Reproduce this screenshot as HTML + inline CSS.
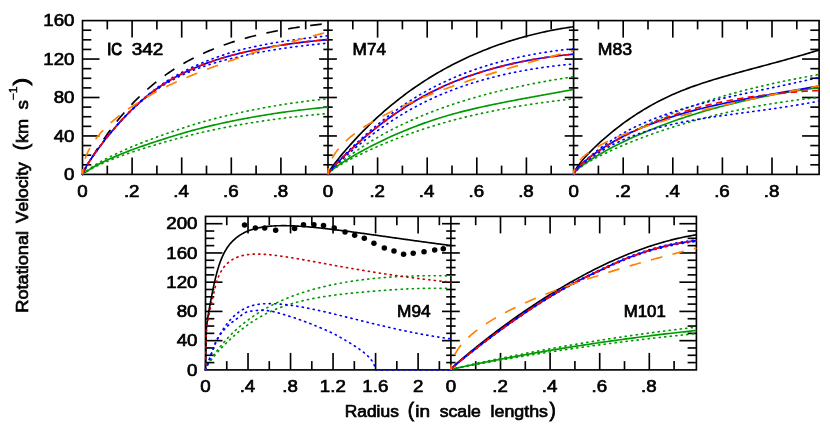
<!DOCTYPE html>
<html><head><meta charset="utf-8"><title>Rotation curves</title>
<style>html,body{margin:0;padding:0;background:#fff;}svg{display:block;will-change:transform;}</style>
</head><body>
<svg width="830" height="426" viewBox="0 0 830 426">
<rect width="830" height="426" fill="#fff"/>
<g stroke="#000" stroke-width="1.65" fill="none" stroke-linecap="butt">
<rect x="82.5" y="20.6" width="736.6" height="153.8"/>
<line x1="107.3" y1="174.4" x2="107.3" y2="165.6"/>
<line x1="107.3" y1="20.6" x2="107.3" y2="29.4"/>
<line x1="132.1" y1="174.4" x2="132.1" y2="157.4"/>
<line x1="132.1" y1="20.6" x2="132.1" y2="37.6"/>
<line x1="156.9" y1="174.4" x2="156.9" y2="165.6"/>
<line x1="156.9" y1="20.6" x2="156.9" y2="29.4"/>
<line x1="181.7" y1="174.4" x2="181.7" y2="157.4"/>
<line x1="181.7" y1="20.6" x2="181.7" y2="37.6"/>
<line x1="206.5" y1="174.4" x2="206.5" y2="165.6"/>
<line x1="206.5" y1="20.6" x2="206.5" y2="29.4"/>
<line x1="231.3" y1="174.4" x2="231.3" y2="157.4"/>
<line x1="231.3" y1="20.6" x2="231.3" y2="37.6"/>
<line x1="256.1" y1="174.4" x2="256.1" y2="165.6"/>
<line x1="256.1" y1="20.6" x2="256.1" y2="29.4"/>
<line x1="280.9" y1="174.4" x2="280.9" y2="157.4"/>
<line x1="280.9" y1="20.6" x2="280.9" y2="37.6"/>
<line x1="305.7" y1="174.4" x2="305.7" y2="165.6"/>
<line x1="305.7" y1="20.6" x2="305.7" y2="29.4"/>
<line x1="328" y1="20.6" x2="328" y2="174.4"/>
<line x1="352.8" y1="174.4" x2="352.8" y2="165.6"/>
<line x1="352.8" y1="20.6" x2="352.8" y2="29.4"/>
<line x1="377.6" y1="174.4" x2="377.6" y2="157.4"/>
<line x1="377.6" y1="20.6" x2="377.6" y2="37.6"/>
<line x1="402.4" y1="174.4" x2="402.4" y2="165.6"/>
<line x1="402.4" y1="20.6" x2="402.4" y2="29.4"/>
<line x1="427.2" y1="174.4" x2="427.2" y2="157.4"/>
<line x1="427.2" y1="20.6" x2="427.2" y2="37.6"/>
<line x1="452" y1="174.4" x2="452" y2="165.6"/>
<line x1="452" y1="20.6" x2="452" y2="29.4"/>
<line x1="476.8" y1="174.4" x2="476.8" y2="157.4"/>
<line x1="476.8" y1="20.6" x2="476.8" y2="37.6"/>
<line x1="501.6" y1="174.4" x2="501.6" y2="165.6"/>
<line x1="501.6" y1="20.6" x2="501.6" y2="29.4"/>
<line x1="526.4" y1="174.4" x2="526.4" y2="157.4"/>
<line x1="526.4" y1="20.6" x2="526.4" y2="37.6"/>
<line x1="551.2" y1="174.4" x2="551.2" y2="165.6"/>
<line x1="551.2" y1="20.6" x2="551.2" y2="29.4"/>
<line x1="573.6" y1="20.6" x2="573.6" y2="174.4"/>
<line x1="598.4" y1="174.4" x2="598.4" y2="165.6"/>
<line x1="598.4" y1="20.6" x2="598.4" y2="29.4"/>
<line x1="623.2" y1="174.4" x2="623.2" y2="157.4"/>
<line x1="623.2" y1="20.6" x2="623.2" y2="37.6"/>
<line x1="648" y1="174.4" x2="648" y2="165.6"/>
<line x1="648" y1="20.6" x2="648" y2="29.4"/>
<line x1="672.8" y1="174.4" x2="672.8" y2="157.4"/>
<line x1="672.8" y1="20.6" x2="672.8" y2="37.6"/>
<line x1="697.6" y1="174.4" x2="697.6" y2="165.6"/>
<line x1="697.6" y1="20.6" x2="697.6" y2="29.4"/>
<line x1="722.4" y1="174.4" x2="722.4" y2="157.4"/>
<line x1="722.4" y1="20.6" x2="722.4" y2="37.6"/>
<line x1="747.2" y1="174.4" x2="747.2" y2="165.6"/>
<line x1="747.2" y1="20.6" x2="747.2" y2="29.4"/>
<line x1="772" y1="174.4" x2="772" y2="157.4"/>
<line x1="772" y1="20.6" x2="772" y2="37.6"/>
<line x1="796.8" y1="174.4" x2="796.8" y2="165.6"/>
<line x1="796.8" y1="20.6" x2="796.8" y2="29.4"/>
<line x1="82.5" y1="164.79" x2="91.3" y2="164.79"/>
<line x1="819.1" y1="164.79" x2="810.3" y2="164.79"/>
<line x1="323.3" y1="164.79" x2="332.7" y2="164.79"/>
<line x1="568.9" y1="164.79" x2="578.3" y2="164.79"/>
<line x1="82.5" y1="155.18" x2="91.3" y2="155.18"/>
<line x1="819.1" y1="155.18" x2="810.3" y2="155.18"/>
<line x1="323.3" y1="155.18" x2="332.7" y2="155.18"/>
<line x1="568.9" y1="155.18" x2="578.3" y2="155.18"/>
<line x1="82.5" y1="145.56" x2="91.3" y2="145.56"/>
<line x1="819.1" y1="145.56" x2="810.3" y2="145.56"/>
<line x1="323.3" y1="145.56" x2="332.7" y2="145.56"/>
<line x1="568.9" y1="145.56" x2="578.3" y2="145.56"/>
<line x1="82.5" y1="135.95" x2="99.5" y2="135.95"/>
<line x1="819.1" y1="135.95" x2="802.1" y2="135.95"/>
<line x1="319.1" y1="135.95" x2="336.9" y2="135.95"/>
<line x1="564.7" y1="135.95" x2="582.5" y2="135.95"/>
<line x1="82.5" y1="126.34" x2="91.3" y2="126.34"/>
<line x1="819.1" y1="126.34" x2="810.3" y2="126.34"/>
<line x1="323.3" y1="126.34" x2="332.7" y2="126.34"/>
<line x1="568.9" y1="126.34" x2="578.3" y2="126.34"/>
<line x1="82.5" y1="116.72" x2="91.3" y2="116.72"/>
<line x1="819.1" y1="116.72" x2="810.3" y2="116.72"/>
<line x1="323.3" y1="116.72" x2="332.7" y2="116.72"/>
<line x1="568.9" y1="116.72" x2="578.3" y2="116.72"/>
<line x1="82.5" y1="107.11" x2="91.3" y2="107.11"/>
<line x1="819.1" y1="107.11" x2="810.3" y2="107.11"/>
<line x1="323.3" y1="107.11" x2="332.7" y2="107.11"/>
<line x1="568.9" y1="107.11" x2="578.3" y2="107.11"/>
<line x1="82.5" y1="97.5" x2="99.5" y2="97.5"/>
<line x1="819.1" y1="97.5" x2="802.1" y2="97.5"/>
<line x1="319.1" y1="97.5" x2="336.9" y2="97.5"/>
<line x1="564.7" y1="97.5" x2="582.5" y2="97.5"/>
<line x1="82.5" y1="87.89" x2="91.3" y2="87.89"/>
<line x1="819.1" y1="87.89" x2="810.3" y2="87.89"/>
<line x1="323.3" y1="87.89" x2="332.7" y2="87.89"/>
<line x1="568.9" y1="87.89" x2="578.3" y2="87.89"/>
<line x1="82.5" y1="78.28" x2="91.3" y2="78.28"/>
<line x1="819.1" y1="78.28" x2="810.3" y2="78.28"/>
<line x1="323.3" y1="78.28" x2="332.7" y2="78.28"/>
<line x1="568.9" y1="78.28" x2="578.3" y2="78.28"/>
<line x1="82.5" y1="68.66" x2="91.3" y2="68.66"/>
<line x1="819.1" y1="68.66" x2="810.3" y2="68.66"/>
<line x1="323.3" y1="68.66" x2="332.7" y2="68.66"/>
<line x1="568.9" y1="68.66" x2="578.3" y2="68.66"/>
<line x1="82.5" y1="59.05" x2="99.5" y2="59.05"/>
<line x1="819.1" y1="59.05" x2="802.1" y2="59.05"/>
<line x1="319.1" y1="59.05" x2="336.9" y2="59.05"/>
<line x1="564.7" y1="59.05" x2="582.5" y2="59.05"/>
<line x1="82.5" y1="49.44" x2="91.3" y2="49.44"/>
<line x1="819.1" y1="49.44" x2="810.3" y2="49.44"/>
<line x1="323.3" y1="49.44" x2="332.7" y2="49.44"/>
<line x1="568.9" y1="49.44" x2="578.3" y2="49.44"/>
<line x1="82.5" y1="39.82" x2="91.3" y2="39.82"/>
<line x1="819.1" y1="39.82" x2="810.3" y2="39.82"/>
<line x1="323.3" y1="39.82" x2="332.7" y2="39.82"/>
<line x1="568.9" y1="39.82" x2="578.3" y2="39.82"/>
<line x1="82.5" y1="30.21" x2="91.3" y2="30.21"/>
<line x1="819.1" y1="30.21" x2="810.3" y2="30.21"/>
<line x1="323.3" y1="30.21" x2="332.7" y2="30.21"/>
<line x1="568.9" y1="30.21" x2="578.3" y2="30.21"/>
</g>
<g stroke="#000" stroke-width="1.65" fill="none" stroke-linecap="butt">
<rect x="205.5" y="216.4" width="490.9" height="153.5"/>
<line x1="226.76" y1="369.9" x2="226.76" y2="361.1"/>
<line x1="226.76" y1="216.4" x2="226.76" y2="225.2"/>
<line x1="248.02" y1="369.9" x2="248.02" y2="352.9"/>
<line x1="248.02" y1="216.4" x2="248.02" y2="233.4"/>
<line x1="269.28" y1="369.9" x2="269.28" y2="361.1"/>
<line x1="269.28" y1="216.4" x2="269.28" y2="225.2"/>
<line x1="290.54" y1="369.9" x2="290.54" y2="352.9"/>
<line x1="290.54" y1="216.4" x2="290.54" y2="233.4"/>
<line x1="311.8" y1="369.9" x2="311.8" y2="361.1"/>
<line x1="311.8" y1="216.4" x2="311.8" y2="225.2"/>
<line x1="333.06" y1="369.9" x2="333.06" y2="352.9"/>
<line x1="333.06" y1="216.4" x2="333.06" y2="233.4"/>
<line x1="354.32" y1="369.9" x2="354.32" y2="361.1"/>
<line x1="354.32" y1="216.4" x2="354.32" y2="225.2"/>
<line x1="375.58" y1="369.9" x2="375.58" y2="352.9"/>
<line x1="375.58" y1="216.4" x2="375.58" y2="233.4"/>
<line x1="396.84" y1="369.9" x2="396.84" y2="361.1"/>
<line x1="396.84" y1="216.4" x2="396.84" y2="225.2"/>
<line x1="418.1" y1="369.9" x2="418.1" y2="352.9"/>
<line x1="418.1" y1="216.4" x2="418.1" y2="233.4"/>
<line x1="439.36" y1="369.9" x2="439.36" y2="361.1"/>
<line x1="439.36" y1="216.4" x2="439.36" y2="225.2"/>
<line x1="450.9" y1="216.4" x2="450.9" y2="369.9"/>
<line x1="475.7" y1="369.9" x2="475.7" y2="361.1"/>
<line x1="475.7" y1="216.4" x2="475.7" y2="225.2"/>
<line x1="500.5" y1="369.9" x2="500.5" y2="352.9"/>
<line x1="500.5" y1="216.4" x2="500.5" y2="233.4"/>
<line x1="525.3" y1="369.9" x2="525.3" y2="361.1"/>
<line x1="525.3" y1="216.4" x2="525.3" y2="225.2"/>
<line x1="550.1" y1="369.9" x2="550.1" y2="352.9"/>
<line x1="550.1" y1="216.4" x2="550.1" y2="233.4"/>
<line x1="574.9" y1="369.9" x2="574.9" y2="361.1"/>
<line x1="574.9" y1="216.4" x2="574.9" y2="225.2"/>
<line x1="599.7" y1="369.9" x2="599.7" y2="352.9"/>
<line x1="599.7" y1="216.4" x2="599.7" y2="233.4"/>
<line x1="624.5" y1="369.9" x2="624.5" y2="361.1"/>
<line x1="624.5" y1="216.4" x2="624.5" y2="225.2"/>
<line x1="649.3" y1="369.9" x2="649.3" y2="352.9"/>
<line x1="649.3" y1="216.4" x2="649.3" y2="233.4"/>
<line x1="674.1" y1="369.9" x2="674.1" y2="361.1"/>
<line x1="674.1" y1="216.4" x2="674.1" y2="225.2"/>
<line x1="205.5" y1="362.59" x2="214.3" y2="362.59"/>
<line x1="696.4" y1="362.59" x2="687.6" y2="362.59"/>
<line x1="446.2" y1="362.59" x2="455.6" y2="362.59"/>
<line x1="205.5" y1="355.28" x2="214.3" y2="355.28"/>
<line x1="696.4" y1="355.28" x2="687.6" y2="355.28"/>
<line x1="446.2" y1="355.28" x2="455.6" y2="355.28"/>
<line x1="205.5" y1="347.97" x2="214.3" y2="347.97"/>
<line x1="696.4" y1="347.97" x2="687.6" y2="347.97"/>
<line x1="446.2" y1="347.97" x2="455.6" y2="347.97"/>
<line x1="205.5" y1="340.66" x2="222.5" y2="340.66"/>
<line x1="696.4" y1="340.66" x2="679.4" y2="340.66"/>
<line x1="442" y1="340.66" x2="459.8" y2="340.66"/>
<line x1="205.5" y1="333.35" x2="214.3" y2="333.35"/>
<line x1="696.4" y1="333.35" x2="687.6" y2="333.35"/>
<line x1="446.2" y1="333.35" x2="455.6" y2="333.35"/>
<line x1="205.5" y1="326.04" x2="214.3" y2="326.04"/>
<line x1="696.4" y1="326.04" x2="687.6" y2="326.04"/>
<line x1="446.2" y1="326.04" x2="455.6" y2="326.04"/>
<line x1="205.5" y1="318.73" x2="214.3" y2="318.73"/>
<line x1="696.4" y1="318.73" x2="687.6" y2="318.73"/>
<line x1="446.2" y1="318.73" x2="455.6" y2="318.73"/>
<line x1="205.5" y1="311.42" x2="222.5" y2="311.42"/>
<line x1="696.4" y1="311.42" x2="679.4" y2="311.42"/>
<line x1="442" y1="311.42" x2="459.8" y2="311.42"/>
<line x1="205.5" y1="304.11" x2="214.3" y2="304.11"/>
<line x1="696.4" y1="304.11" x2="687.6" y2="304.11"/>
<line x1="446.2" y1="304.11" x2="455.6" y2="304.11"/>
<line x1="205.5" y1="296.8" x2="214.3" y2="296.8"/>
<line x1="696.4" y1="296.8" x2="687.6" y2="296.8"/>
<line x1="446.2" y1="296.8" x2="455.6" y2="296.8"/>
<line x1="205.5" y1="289.5" x2="214.3" y2="289.5"/>
<line x1="696.4" y1="289.5" x2="687.6" y2="289.5"/>
<line x1="446.2" y1="289.5" x2="455.6" y2="289.5"/>
<line x1="205.5" y1="282.19" x2="222.5" y2="282.19"/>
<line x1="696.4" y1="282.19" x2="679.4" y2="282.19"/>
<line x1="442" y1="282.19" x2="459.8" y2="282.19"/>
<line x1="205.5" y1="274.88" x2="214.3" y2="274.88"/>
<line x1="696.4" y1="274.88" x2="687.6" y2="274.88"/>
<line x1="446.2" y1="274.88" x2="455.6" y2="274.88"/>
<line x1="205.5" y1="267.57" x2="214.3" y2="267.57"/>
<line x1="696.4" y1="267.57" x2="687.6" y2="267.57"/>
<line x1="446.2" y1="267.57" x2="455.6" y2="267.57"/>
<line x1="205.5" y1="260.26" x2="214.3" y2="260.26"/>
<line x1="696.4" y1="260.26" x2="687.6" y2="260.26"/>
<line x1="446.2" y1="260.26" x2="455.6" y2="260.26"/>
<line x1="205.5" y1="252.95" x2="222.5" y2="252.95"/>
<line x1="696.4" y1="252.95" x2="679.4" y2="252.95"/>
<line x1="442" y1="252.95" x2="459.8" y2="252.95"/>
<line x1="205.5" y1="245.64" x2="214.3" y2="245.64"/>
<line x1="696.4" y1="245.64" x2="687.6" y2="245.64"/>
<line x1="446.2" y1="245.64" x2="455.6" y2="245.64"/>
<line x1="205.5" y1="238.33" x2="214.3" y2="238.33"/>
<line x1="696.4" y1="238.33" x2="687.6" y2="238.33"/>
<line x1="446.2" y1="238.33" x2="455.6" y2="238.33"/>
<line x1="205.5" y1="231.02" x2="214.3" y2="231.02"/>
<line x1="696.4" y1="231.02" x2="687.6" y2="231.02"/>
<line x1="446.2" y1="231.02" x2="455.6" y2="231.02"/>
<line x1="205.5" y1="223.71" x2="222.5" y2="223.71"/>
<line x1="696.4" y1="223.71" x2="679.4" y2="223.71"/>
<line x1="442" y1="223.71" x2="459.8" y2="223.71"/>
</g>
<g stroke-linejoin="round">
<path d="M82.5,174.4L84.56,170.59L86.63,166.86L88.69,163.23L90.75,159.68L92.82,156.22L94.88,152.84L96.94,149.54L99,146.32L101.07,143.18L103.13,140.11L105.19,137.11L107.26,134.19L109.32,131.33L111.38,128.55L113.45,125.83L115.51,123.17L117.57,120.58L119.63,118.05L121.7,115.58L123.76,113.17L125.82,110.81L127.89,108.51L129.95,106.27L132.01,104.08L134.08,101.94L136.14,99.86L138.2,97.82L140.26,95.83L142.33,93.89L144.39,91.99L146.45,90.14L148.52,88.34L150.58,86.58L152.64,84.86L154.71,83.18L156.77,81.54L158.83,79.94L160.89,78.37L162.96,76.85L165.02,75.36L167.08,73.91L169.15,72.49L171.21,71.1L173.27,69.75L175.34,68.43L177.4,67.14L179.46,65.88L181.53,64.66L183.59,63.46L185.65,62.29L187.71,61.15L189.78,60.03L191.84,58.94L193.9,57.88L195.97,56.84L198.03,55.83L200.09,54.84L202.16,53.88L204.22,52.94L206.28,52.02L208.34,51.12L210.41,50.24L212.47,49.39L214.53,48.55L216.6,47.74L218.66,46.94L220.72,46.17L222.79,45.41L224.85,44.67L226.91,43.95L228.97,43.24L231.04,42.55L233.1,41.88L235.16,41.23L237.23,40.59L239.29,39.96L241.35,39.35L243.42,38.76L245.48,38.17L247.54,37.61L249.61,37.05L251.67,36.51L253.73,35.98L255.79,35.47L257.86,34.97L259.92,34.47L261.98,34L264.05,33.53L266.11,33.07L268.17,32.62L270.24,32.19L272.3,31.76L274.36,31.35L276.42,30.94L278.49,30.55L280.55,30.16L282.61,29.79L284.68,29.42L286.74,29.06L288.8,28.71L290.87,28.37L292.93,28.03L294.99,27.71L297.05,27.39L299.12,27.08L301.18,26.78L303.24,26.48L305.31,26.19L307.37,25.91L309.43,25.63L311.5,25.36L313.56,25.1L315.62,24.85L317.68,24.6L319.75,24.35L321.81,24.11L323.87,23.88L325.94,23.65L328,23.43" fill="none" stroke="#000000" stroke-width="1.65" stroke-dasharray="11.7 10.5" stroke-dashoffset="3.5"/>
<path d="M82.5,174.4L84.56,172.72L86.63,171.09L88.69,169.52L90.75,168.02L92.82,166.59L94.88,165.22L96.94,163.93L99,162.7L101.07,161.51L103.13,160.38L105.19,159.28L107.26,158.2L109.32,157.15L111.38,156.12L113.45,155.11L115.51,154.12L117.57,153.14L119.63,152.19L121.7,151.25L123.76,150.32L125.82,149.41L127.89,148.52L129.95,147.63L132.01,146.75L134.08,145.89L136.14,145.04L138.2,144.21L140.26,143.39L142.33,142.58L144.39,141.78L146.45,140.99L148.52,140.21L150.58,139.43L152.64,138.66L154.71,137.9L156.77,137.14L158.83,136.38L160.89,135.63L162.96,134.89L165.02,134.15L167.08,133.42L169.15,132.69L171.21,131.97L173.27,131.26L175.34,130.56L177.4,129.86L179.46,129.17L181.53,128.5L183.59,127.83L185.65,127.16L187.71,126.5L189.78,125.85L191.84,125.2L193.9,124.56L195.97,123.93L198.03,123.31L200.09,122.7L202.16,122.1L204.22,121.51L206.28,120.93L208.34,120.36L210.41,119.81L212.47,119.26L214.53,118.71L216.6,118.18L218.66,117.66L220.72,117.14L222.79,116.63L224.85,116.13L226.91,115.63L228.97,115.14L231.04,114.66L233.1,114.18L235.16,113.71L237.23,113.25L239.29,112.79L241.35,112.34L243.42,111.9L245.48,111.46L247.54,111.02L249.61,110.6L251.67,110.18L253.73,109.77L255.79,109.36L257.86,108.96L259.92,108.56L261.98,108.17L264.05,107.79L266.11,107.41L268.17,107.03L270.24,106.66L272.3,106.3L274.36,105.95L276.42,105.6L278.49,105.26L280.55,104.92L282.61,104.59L284.68,104.27L286.74,103.96L288.8,103.64L290.87,103.34L292.93,103.04L294.99,102.74L297.05,102.45L299.12,102.17L301.18,101.89L303.24,101.62L305.31,101.35L307.37,101.08L309.43,100.82L311.5,100.57L313.56,100.32L315.62,100.07L317.68,99.83L319.75,99.6L321.81,99.37L323.87,99.14L325.94,98.92L328,98.7" fill="none" stroke="#009a00" stroke-width="1.65" stroke-dasharray="1.15 4.4" stroke-linecap="round"/>
<path d="M82.5,174.4L84.56,173.05L86.63,171.74L88.69,170.48L90.75,169.27L92.82,168.11L94.88,167.02L96.94,165.98L99,164.98L101.07,164.03L103.13,163.12L105.19,162.23L107.26,161.37L109.32,160.52L111.38,159.69L113.45,158.88L115.51,158.08L117.57,157.3L119.63,156.53L121.7,155.78L123.76,155.03L125.82,154.3L127.89,153.58L129.95,152.86L132.01,152.16L134.08,151.47L136.14,150.78L138.2,150.11L140.26,149.45L142.33,148.8L144.39,148.16L146.45,147.52L148.52,146.89L150.58,146.27L152.64,145.65L154.71,145.04L156.77,144.43L158.83,143.82L160.89,143.21L162.96,142.61L165.02,142.02L167.08,141.43L169.15,140.85L171.21,140.27L173.27,139.7L175.34,139.13L177.4,138.57L179.46,138.02L181.53,137.47L183.59,136.93L185.65,136.4L187.71,135.87L189.78,135.34L191.84,134.82L193.9,134.31L195.97,133.8L198.03,133.3L200.09,132.81L202.16,132.33L204.22,131.85L206.28,131.39L208.34,130.93L210.41,130.48L212.47,130.04L214.53,129.6L216.6,129.17L218.66,128.75L220.72,128.34L222.79,127.93L224.85,127.52L226.91,127.12L228.97,126.73L231.04,126.34L233.1,125.96L235.16,125.58L237.23,125.21L239.29,124.84L241.35,124.48L243.42,124.12L245.48,123.77L247.54,123.42L249.61,123.07L251.67,122.74L253.73,122.4L255.79,122.08L257.86,121.76L259.92,121.44L261.98,121.12L264.05,120.81L266.11,120.51L268.17,120.21L270.24,119.91L272.3,119.62L274.36,119.33L276.42,119.05L278.49,118.78L280.55,118.51L282.61,118.25L284.68,117.99L286.74,117.73L288.8,117.48L290.87,117.24L292.93,116.99L294.99,116.76L297.05,116.52L299.12,116.29L301.18,116.07L303.24,115.85L305.31,115.63L307.37,115.42L309.43,115.21L311.5,115.01L313.56,114.81L315.62,114.61L317.68,114.42L319.75,114.23L321.81,114.04L323.87,113.86L325.94,113.68L328,113.51" fill="none" stroke="#009a00" stroke-width="1.65" stroke-dasharray="1.15 4.4" stroke-linecap="round"/>
<path d="M82.5,174.4L84.56,172.9L86.63,171.46L88.69,170.07L90.75,168.73L92.82,167.45L94.88,166.24L96.94,165.09L99,164L101.07,162.95L103.13,161.94L105.19,160.96L107.26,160L109.32,159.07L111.38,158.15L113.45,157.25L115.51,156.37L117.57,155.51L119.63,154.66L121.7,153.82L123.76,153L125.82,152.19L127.89,151.39L129.95,150.6L132.01,149.82L134.08,149.06L136.14,148.3L138.2,147.56L140.26,146.83L142.33,146.11L144.39,145.4L146.45,144.7L148.52,144L150.58,143.32L152.64,142.63L154.71,141.95L156.77,141.28L158.83,140.61L160.89,139.94L162.96,139.28L165.02,138.62L167.08,137.97L169.15,137.32L171.21,136.69L173.27,136.05L175.34,135.43L177.4,134.81L179.46,134.2L181.53,133.6L183.59,133L185.65,132.41L187.71,131.82L189.78,131.24L191.84,130.67L193.9,130.1L195.97,129.54L198.03,128.99L200.09,128.44L202.16,127.91L204.22,127.39L206.28,126.87L208.34,126.37L210.41,125.87L212.47,125.38L214.53,124.9L216.6,124.43L218.66,123.96L220.72,123.5L222.79,123.05L224.85,122.6L226.91,122.16L228.97,121.73L231.04,121.3L233.1,120.87L235.16,120.46L237.23,120.04L239.29,119.64L241.35,119.24L243.42,118.84L245.48,118.45L247.54,118.07L249.61,117.69L251.67,117.31L253.73,116.95L255.79,116.59L257.86,116.23L259.92,115.88L261.98,115.53L264.05,115.19L266.11,114.85L268.17,114.52L270.24,114.19L272.3,113.87L274.36,113.55L276.42,113.24L278.49,112.94L280.55,112.64L282.61,112.35L284.68,112.06L286.74,111.78L288.8,111.51L290.87,111.23L292.93,110.97L294.99,110.71L297.05,110.45L299.12,110.19L301.18,109.95L303.24,109.7L305.31,109.46L307.37,109.23L309.43,109L311.5,108.77L313.56,108.55L315.62,108.33L317.68,108.12L319.75,107.91L321.81,107.7L323.87,107.5L325.94,107.31L328,107.11" fill="none" stroke="#009a00" stroke-width="1.65"/>
<path d="M82.5,174.4L84.56,169.4L86.63,165.85L88.69,162.56L90.75,159.4L92.82,156.35L94.88,153.38L96.94,150.48L99,147.64L101.07,144.86L103.13,142.14L105.19,139.47L107.26,136.85L109.32,134.29L111.38,131.77L113.45,129.3L115.51,126.88L117.57,124.51L119.63,122.18L121.7,119.9L123.76,117.67L125.82,115.48L127.89,113.34L129.95,111.24L132.01,109.19L134.08,107.18L136.14,105.21L138.2,103.29L140.26,101.42L142.33,99.59L144.39,97.8L146.45,96.06L148.52,94.36L150.58,92.7L152.64,91.09L154.71,89.52L156.77,87.99L158.83,86.51L160.89,85.07L162.96,83.66L165.02,82.3L167.08,80.97L169.15,79.68L171.21,78.42L173.27,77.2L175.34,76L177.4,74.84L179.46,73.71L181.53,72.6L183.59,71.52L185.65,70.47L187.71,69.44L189.78,68.44L191.84,67.46L193.9,66.51L195.97,65.57L198.03,64.66L200.09,63.77L202.16,62.9L204.22,62.04L206.28,61.21L208.34,60.4L210.41,59.6L212.47,58.82L214.53,58.06L216.6,57.31L218.66,56.58L220.72,55.87L222.79,55.17L224.85,54.48L226.91,53.81L228.97,53.15L231.04,52.51L233.1,51.88L235.16,51.26L237.23,50.68L239.29,50.15L241.35,49.64L243.42,49.13L245.48,48.64L247.54,48.16L249.61,47.69L251.67,47.23L253.73,46.79L255.79,46.35L257.86,45.92L259.92,45.5L261.98,45.1L264.05,44.7L266.11,44.31L268.17,43.93L270.24,43.56L272.3,43.19L274.36,42.84L276.42,42.49L278.49,42.15L280.55,41.82L282.61,41.49L284.68,41.17L286.74,40.86L288.8,40.56L290.87,40.26L292.93,39.97L294.99,39.69L297.05,39.41L299.12,39.13L301.18,38.87L303.24,38.6L305.31,38.35L307.37,38.1L309.43,37.85L311.5,37.61L313.56,37.38L315.62,37.14L317.68,36.92L319.75,36.7L321.81,36.48L323.87,36.26L325.94,36.05L328,35.85" fill="none" stroke="#0000ff" stroke-width="1.65" stroke-dasharray="1.15 4.4" stroke-linecap="round"/>
<path d="M82.5,174.4L84.56,169.41L86.63,165.86L88.69,162.56L90.75,159.41L92.82,156.37L94.88,153.41L96.94,150.52L99,147.69L101.07,144.93L103.13,142.22L105.19,139.58L107.26,136.98L109.32,134.44L111.38,131.96L113.45,129.52L115.51,127.14L117.57,124.8L119.63,122.52L121.7,120.28L123.76,118.09L125.82,115.95L127.89,113.86L129.95,111.82L132.01,109.83L134.08,107.88L136.14,105.98L138.2,104.13L140.26,102.32L142.33,100.56L144.39,98.85L146.45,97.18L148.52,95.56L150.58,93.99L152.64,92.46L154.71,90.98L156.77,89.54L158.83,88.15L160.89,86.81L162.96,85.5L165.02,84.24L167.08,83.01L169.15,81.82L171.21,80.67L173.27,79.55L175.34,78.47L177.4,77.41L179.46,76.39L181.53,75.4L183.59,74.44L185.65,73.51L187.71,72.6L189.78,71.72L191.84,70.87L193.9,70.04L195.97,69.23L198.03,68.45L200.09,67.69L202.16,66.95L204.22,66.24L206.28,65.54L208.34,64.87L210.41,64.21L212.47,63.57L214.53,62.95L216.6,62.35L218.66,61.77L220.72,61.2L222.79,60.65L224.85,60.12L226.91,59.6L228.97,59.09L231.04,58.6L233.1,58.13L235.16,57.67L237.23,57.19L239.29,56.69L241.35,56.2L243.42,55.72L245.48,55.25L247.54,54.8L249.61,54.35L251.67,53.92L253.73,53.5L255.79,53.08L257.86,52.68L259.92,52.28L261.98,51.89L264.05,51.52L266.11,51.15L268.17,50.79L270.24,50.43L272.3,50.09L274.36,49.75L276.42,49.42L278.49,49.1L280.55,48.79L282.61,48.48L284.68,48.18L286.74,47.88L288.8,47.6L290.87,47.31L292.93,47.04L294.99,46.77L297.05,46.5L299.12,46.25L301.18,45.99L303.24,45.75L305.31,45.5L307.37,45.26L309.43,45.03L311.5,44.8L313.56,44.58L315.62,44.36L317.68,44.15L319.75,43.94L321.81,43.73L323.87,43.53L325.94,43.33L328,43.13" fill="none" stroke="#0000ff" stroke-width="1.65" stroke-dasharray="1.15 4.4" stroke-linecap="round"/>
<path d="M82.5,174.4L84.56,169.4L86.63,165.86L88.69,162.56L90.75,159.41L92.82,156.36L94.88,153.39L96.94,150.5L99,147.67L101.07,144.9L103.13,142.18L105.19,139.52L107.26,136.92L109.32,134.37L111.38,131.86L113.45,129.41L115.51,127.01L117.57,124.65L119.63,122.35L121.7,120.09L123.76,117.88L125.82,115.72L127.89,113.6L129.95,111.53L132.01,109.51L134.08,107.53L136.14,105.6L138.2,103.71L140.26,101.87L142.33,100.07L144.39,98.32L146.45,96.62L148.52,94.96L150.58,93.34L152.64,91.77L154.71,90.25L156.77,88.77L158.83,87.33L160.89,85.94L162.96,84.58L165.02,83.27L167.08,81.99L169.15,80.75L171.21,79.55L173.27,78.37L175.34,77.24L177.4,76.13L179.46,75.05L181.53,74L183.59,72.98L185.65,71.99L187.71,71.02L189.78,70.08L191.84,69.16L193.9,68.27L195.97,67.4L198.03,66.56L200.09,65.73L202.16,64.93L204.22,64.14L206.28,63.38L208.34,62.63L210.41,61.91L212.47,61.2L214.53,60.51L216.6,59.83L218.66,59.18L220.72,58.54L222.79,57.91L224.85,57.3L226.91,56.7L228.97,56.12L231.04,55.56L233.1,55L235.16,54.46L237.23,53.94L239.29,53.42L241.35,52.92L243.42,52.43L245.48,51.95L247.54,51.48L249.61,51.02L251.67,50.58L253.73,50.14L255.79,49.71L257.86,49.3L259.92,48.89L261.98,48.5L264.05,48.11L266.11,47.73L268.17,47.36L270.24,46.99L272.3,46.64L274.36,46.29L276.42,45.96L278.49,45.63L280.55,45.3L282.61,44.99L284.68,44.68L286.74,44.37L288.8,44.08L290.87,43.79L292.93,43.5L294.99,43.23L297.05,42.96L299.12,42.69L301.18,42.43L303.24,42.18L305.31,41.93L307.37,41.68L309.43,41.44L311.5,41.21L313.56,40.98L315.62,40.75L317.68,40.53L319.75,40.32L321.81,40.1L323.87,39.9L325.94,39.69L328,39.49" fill="none" stroke="#0000ff" stroke-width="1.65"/>
<path d="M82.5,174.4L84.56,169.4L86.63,165.86L88.69,162.56L90.75,159.41L92.82,156.36L94.88,153.39L96.94,150.5L99,147.67L101.07,144.9L103.13,142.18L105.19,139.52L107.26,136.92L109.32,134.37L111.38,131.86L113.45,129.41L115.51,127.01L117.57,124.65L119.63,122.35L121.7,120.09L123.76,117.88L125.82,115.72L127.89,113.6L129.95,111.53L132.01,109.51L134.08,107.53L136.14,105.6L138.2,103.71L140.26,101.87L142.33,100.07L144.39,98.32L146.45,96.62L148.52,94.96L150.58,93.34L152.64,91.77L154.71,90.25L156.77,88.77L158.83,87.33L160.89,85.94L162.96,84.58L165.02,83.27L167.08,81.99L169.15,80.75L171.21,79.55L173.27,78.37L175.34,77.24L177.4,76.13L179.46,75.05L181.53,74L183.59,72.98L185.65,71.99L187.71,71.02L189.78,70.08L191.84,69.16L193.9,68.27L195.97,67.4L198.03,66.56L200.09,65.73L202.16,64.93L204.22,64.14L206.28,63.38L208.34,62.63L210.41,61.91L212.47,61.2L214.53,60.51L216.6,59.83L218.66,59.18L220.72,58.54L222.79,57.91L224.85,57.3L226.91,56.7L228.97,56.12L231.04,55.56L233.1,55L235.16,54.46L237.23,53.94L239.29,53.42L241.35,52.92L243.42,52.43L245.48,51.95L247.54,51.48L249.61,51.02L251.67,50.58L253.73,50.14L255.79,49.71L257.86,49.3L259.92,48.89L261.98,48.5L264.05,48.11L266.11,47.73L268.17,47.36L270.24,46.99L272.3,46.64L274.36,46.29L276.42,45.96L278.49,45.63L280.55,45.3L282.61,44.99L284.68,44.68L286.74,44.37L288.8,44.08L290.87,43.79L292.93,43.5L294.99,43.23L297.05,42.96L299.12,42.69L301.18,42.43L303.24,42.18L305.31,41.93L307.37,41.68L309.43,41.44L311.5,41.21L313.56,40.98L315.62,40.75L317.68,40.53L319.75,40.32L321.81,40.1L323.87,39.9L325.94,39.69L328,39.49" fill="none" stroke="#ff0000" stroke-width="1.65" stroke-dasharray="6.4 4.4"/>
<path d="M82.5,174.4L82.57,173.68L82.63,172.96L82.7,172.25L82.77,171.56L82.83,170.87L82.9,170.2L82.97,169.55L83.03,168.91L83.1,168.29L83.17,167.69L83.23,167.11L83.3,166.56L83.37,166.03L83.43,165.53L83.5,165.06L83.57,164.62L83.64,164.21L83.7,163.83L83.77,163.49L83.84,163.17L83.9,162.85L83.97,162.55L84.04,162.26L84.1,161.99L84.17,161.72L84.24,161.46L84.3,161.21L84.37,160.97L84.44,160.74L84.5,160.51L84.57,160.29L84.64,160.08L84.7,159.87L84.77,159.67L84.84,159.47L84.9,159.27L84.97,159.08L85.04,158.89L85.1,158.7L85.92,156.48L86.73,154.46L87.54,152.64L88.35,150.96L89.17,149.38L89.98,147.87L90.79,146.42L91.6,145.05L92.42,143.73L93.23,142.47L94.04,141.26L94.85,140.09L95.66,138.98L96.48,137.91L97.29,136.88L98.1,135.88L98.91,134.92L99.73,133.98L100.54,133.07L101.35,132.18L102.16,131.3L102.98,130.43L103.79,129.57L104.6,128.72L105.41,127.89L106.23,127.08L107.04,126.29L107.85,125.5L108.66,124.73L109.47,123.98L110.29,123.23L111.1,122.5L111.91,121.78L112.72,121.07L113.54,120.38L114.35,119.69L115.16,119.01L115.97,118.35L116.79,117.68L117.6,117.03L118.41,116.38L119.22,115.74L120.04,115.1L120.85,114.46L121.66,113.83L122.47,113.2L123.28,112.58L124.1,111.96L124.91,111.35L125.72,110.75L126.53,110.16L127.35,109.58L128.16,109.01L128.97,108.45L129.78,107.9L130.6,107.37L131.41,106.84L132.22,106.33L133.03,105.82L133.85,105.31L134.66,104.81L135.47,104.32L136.28,103.82L137.1,103.32L137.91,102.82L138.72,102.32L139.53,101.81L140.34,101.3L141.16,100.78L141.97,100.27L142.78,99.76L143.59,99.25L144.41,98.73L145.22,98.22L146.03,97.72L146.84,97.21L147.66,96.71L148.47,96.22L149.28,95.73L150.09,95.24L150.91,94.76L151.72,94.29L152.53,93.81L153.34,93.34L154.15,92.88L154.97,92.42L155.78,91.97L156.59,91.52L157.4,91.09L158.22,90.66L159.03,90.24L159.84,89.83L160.65,89.41L161.47,89L162.28,88.6L163.09,88.19L163.9,87.79L164.72,87.4L165.53,87L166.34,86.61L167.15,86.22L167.96,85.84L168.78,85.45L169.59,85.07L170.4,84.69L171.21,84.32L172.03,83.94L172.84,83.57L173.65,83.2L174.46,82.83L175.28,82.46L176.09,82.1L176.9,81.74L177.71,81.38L178.53,81.02L179.34,80.66L180.15,80.3L180.96,79.94L181.77,79.59L182.59,79.23L183.4,78.88L184.21,78.53L185.02,78.19L185.84,77.84L186.65,77.49L187.46,77.15L188.27,76.81L189.09,76.47L189.9,76.13L190.71,75.8L191.52,75.46L192.34,75.13L193.15,74.8L193.96,74.47L194.77,74.14L195.59,73.81L196.4,73.48L197.21,73.16L198.02,72.83L198.83,72.51L199.65,72.19L200.46,71.87L201.27,71.55L202.08,71.23L202.9,70.91L203.71,70.6L204.52,70.28L205.33,69.97L206.15,69.66L206.96,69.34L207.77,69.03L208.58,68.72L209.4,68.41L210.21,68.1L211.02,67.79L211.83,67.49L212.64,67.19L213.46,66.88L214.27,66.58L215.08,66.28L215.89,65.99L216.71,65.69L217.52,65.39L218.33,65.1L219.14,64.81L219.96,64.51L220.77,64.22L221.58,63.93L222.39,63.64L223.21,63.35L224.02,63.06L224.83,62.77L225.64,62.48L226.45,62.19L227.27,61.91L228.08,61.62L228.89,61.33L229.7,61.04L230.52,60.76L231.33,60.48L232.14,60.19L232.95,59.91L233.77,59.63L234.58,59.35L235.39,59.07L236.2,58.79L237.02,58.52L237.83,58.24L238.64,57.96L239.45,57.67L240.26,57.39L241.08,57.11L241.89,56.82L242.7,56.54L243.51,56.25L244.33,55.95L245.14,55.66L245.95,55.37L246.76,55.07L247.58,54.78L248.39,54.49L249.2,54.19L250.01,53.9L250.83,53.61L251.64,53.33L252.45,53.04L253.26,52.76L254.08,52.48L254.89,52.21L255.7,51.94L256.51,51.67L257.32,51.41L258.14,51.15L258.95,50.9L259.76,50.65L260.57,50.41L261.39,50.16L262.2,49.93L263.01,49.69L263.82,49.46L264.64,49.22L265.45,48.99L266.26,48.77L267.07,48.54L267.89,48.32L268.7,48.09L269.51,47.87L270.32,47.65L271.13,47.43L271.95,47.21L272.76,47L273.57,46.78L274.38,46.56L275.2,46.34L276.01,46.13L276.82,45.91L277.63,45.69L278.45,45.47L279.26,45.25L280.07,45.03L280.88,44.8L281.7,44.58L282.51,44.35L283.32,44.12L284.13,43.9L284.94,43.67L285.76,43.44L286.57,43.21L287.38,42.98L288.19,42.75L289.01,42.52L289.82,42.29L290.63,42.06L291.44,41.83L292.26,41.6L293.07,41.37L293.88,41.14L294.69,40.91L295.51,40.68L296.32,40.46L297.13,40.23L297.94,40.01L298.75,39.79L299.57,39.56L300.38,39.34L301.19,39.12L302,38.89L302.82,38.67L303.63,38.45L304.44,38.23L305.25,38.01L306.07,37.78L306.88,37.56L307.69,37.34L308.5,37.12L309.32,36.9L310.13,36.69L310.94,36.47L311.75,36.25L312.57,36.03L313.38,35.81L314.19,35.59L315,35.38L315.81,35.16L316.63,34.94L317.44,34.73L318.25,34.51L319.06,34.29L319.88,34.08L320.69,33.86L321.5,33.65L322.31,33.44L323.13,33.22L323.94,33.01L324.75,32.8L325.56,32.58L326.38,32.37L327.19,32.16L328,31.95" fill="none" stroke="#ff8000" stroke-width="1.65" stroke-dasharray="11.7 10.5" stroke-dashoffset="6.24"/>
<path d="M328,174.4L330.06,170.04L332.13,167L334.19,164.19L336.25,161.5L338.32,158.9L340.38,156.35L342.44,153.87L344.5,151.43L346.57,149.03L348.63,146.68L350.69,144.36L352.76,142.08L354.82,139.83L356.88,137.62L358.95,135.44L361.01,133.29L363.07,131.18L365.13,129.09L367.2,127.04L369.26,125.02L371.32,123.03L373.39,121.07L375.45,119.13L377.51,117.23L379.58,115.36L381.64,113.52L383.7,111.7L385.76,109.92L387.83,108.16L389.89,106.42L391.95,104.71L394.02,103.03L396.08,101.38L398.14,99.74L400.21,98.14L402.27,96.55L404.33,94.99L406.39,93.46L408.46,91.94L410.52,90.45L412.58,88.98L414.65,87.54L416.71,86.12L418.77,84.71L420.84,83.33L422.9,81.98L424.96,80.64L427.03,79.33L429.09,78.03L431.15,76.76L433.21,75.51L435.28,74.27L437.34,73.06L439.4,71.87L441.47,70.69L443.53,69.53L445.59,68.4L447.66,67.28L449.72,66.18L451.78,65.09L453.84,64.03L455.91,62.98L457.97,61.95L460.03,60.93L462.1,59.93L464.16,58.95L466.22,57.98L468.29,57.03L470.35,56.1L472.41,55.18L474.47,54.28L476.54,53.39L478.6,52.52L480.66,51.66L482.73,50.81L484.79,49.99L486.85,49.17L488.92,48.37L490.98,47.59L493.04,46.82L495.11,46.06L497.17,45.32L499.23,44.59L501.29,43.87L503.36,43.17L505.42,42.48L507.48,41.81L509.55,41.15L511.61,40.5L513.67,39.86L515.74,39.24L517.8,38.63L519.86,38.03L521.92,37.45L523.99,36.88L526.05,36.32L528.11,35.77L530.18,35.24L532.24,34.71L534.3,34.2L536.37,33.71L538.43,33.22L540.49,32.75L542.55,32.28L544.62,31.83L546.68,31.39L548.74,30.97L550.81,30.55L552.87,30.15L554.93,29.76L557,29.38L559.06,29.01L561.12,28.65L563.18,28.3L565.25,27.97L567.31,27.64L569.37,27.33L571.44,27.03L573.5,26.73" fill="none" stroke="#000000" stroke-width="1.65"/>
<path d="M328,174.4L330.06,171.68L332.13,169.73L334.19,167.9L336.25,166.15L338.32,164.45L340.38,162.78L342.44,161.15L344.5,159.55L346.57,157.98L348.63,156.44L350.69,154.93L352.76,153.44L354.82,151.97L356.88,150.53L358.95,149.11L361.01,147.72L363.07,146.35L365.13,145.01L367.2,143.69L369.26,142.39L371.32,141.11L373.39,139.86L375.45,138.63L377.51,137.42L379.58,136.24L381.64,135.07L383.7,133.93L385.76,132.81L387.83,131.7L389.89,130.62L391.95,129.55L394.02,128.5L396.08,127.47L398.14,126.45L400.21,125.45L402.27,124.47L404.33,123.5L406.39,122.54L408.46,121.6L410.52,120.67L412.58,119.76L414.65,118.86L416.71,117.97L418.77,117.1L420.84,116.24L422.9,115.39L424.96,114.55L427.03,113.72L429.09,112.91L431.15,112.11L433.21,111.32L435.28,110.54L437.34,109.77L439.4,109.01L441.47,108.26L443.53,107.53L445.59,106.8L447.66,106.08L449.72,105.38L451.78,104.68L453.84,103.99L455.91,103.32L457.97,102.65L460.03,101.99L462.1,101.34L464.16,100.7L466.22,100.07L468.29,99.45L470.35,98.83L472.41,98.23L474.47,97.63L476.54,97.04L478.6,96.46L480.66,95.89L482.73,95.32L484.79,94.76L486.85,94.21L488.92,93.67L490.98,93.13L493.04,92.6L495.11,92.08L497.17,91.57L499.23,91.06L501.29,90.56L503.36,90.07L505.42,89.58L507.48,89.1L509.55,88.63L511.61,88.16L513.67,87.7L515.74,87.24L517.8,86.79L519.86,86.35L521.92,85.92L523.99,85.48L526.05,85.06L528.11,84.64L530.18,84.23L532.24,83.82L534.3,83.42L536.37,83.03L538.43,82.64L540.49,82.25L542.55,81.87L544.62,81.5L546.68,81.13L548.74,80.77L550.81,80.41L552.87,80.06L554.93,79.71L557,79.37L559.06,79.04L561.12,78.7L563.18,78.38L565.25,78.06L567.31,77.74L569.37,77.43L571.44,77.12L573.5,76.82" fill="none" stroke="#009a00" stroke-width="1.65" stroke-dasharray="1.15 4.4" stroke-linecap="round"/>
<path d="M328,174.4L330.06,171.8L332.13,170.18L334.19,168.75L336.25,167.41L338.32,166.14L340.38,164.91L342.44,163.72L344.5,162.56L346.57,161.43L348.63,160.32L350.69,159.23L352.76,158.17L354.82,157.12L356.88,156.08L358.95,155.06L361.01,154.06L363.07,153.07L365.13,152.1L367.2,151.14L369.26,150.19L371.32,149.25L373.39,148.32L375.45,147.41L377.51,146.51L379.58,145.62L381.64,144.74L383.7,143.87L385.76,143.01L387.83,142.16L389.89,141.32L391.95,140.5L394.02,139.68L396.08,138.87L398.14,138.08L400.21,137.29L402.27,136.51L404.33,135.74L406.39,134.98L408.46,134.23L410.52,133.5L412.58,132.76L414.65,132.04L416.71,131.33L418.77,130.63L420.84,129.94L422.9,129.25L424.96,128.58L427.03,127.91L429.09,127.25L431.15,126.6L433.21,125.96L435.28,125.33L437.34,124.71L439.4,124.09L441.47,123.49L443.53,122.89L445.59,122.31L447.66,121.73L449.72,121.16L451.78,120.59L453.84,120.04L455.91,119.49L457.97,118.96L460.03,118.43L462.1,117.91L464.16,117.39L466.22,116.89L468.29,116.39L470.35,115.9L472.41,115.41L474.47,114.94L476.54,114.47L478.6,114.01L480.66,113.55L482.73,113.1L484.79,112.66L486.85,112.22L488.92,111.79L490.98,111.37L493.04,110.95L495.11,110.54L497.17,110.13L499.23,109.74L501.29,109.34L503.36,108.95L505.42,108.57L507.48,108.2L509.55,107.83L511.61,107.46L513.67,107.1L515.74,106.75L517.8,106.4L519.86,106.06L521.92,105.72L523.99,105.39L526.05,105.06L528.11,104.74L530.18,104.42L532.24,104.11L534.3,103.8L536.37,103.5L538.43,103.2L540.49,102.91L542.55,102.62L544.62,102.33L546.68,102.06L548.74,101.78L550.81,101.51L552.87,101.25L554.93,100.99L557,100.73L559.06,100.48L561.12,100.23L563.18,99.99L565.25,99.75L567.31,99.51L569.37,99.28L571.44,99.05L573.5,98.83" fill="none" stroke="#009a00" stroke-width="1.65" stroke-dasharray="1.15 4.4" stroke-linecap="round"/>
<path d="M328,174.4L330.06,171.63L332.13,169.85L334.19,168.25L336.25,166.75L338.32,165.31L340.38,163.92L342.44,162.57L344.5,161.25L346.57,159.96L348.63,158.7L350.69,157.45L352.76,156.23L354.82,155.03L356.88,153.85L358.95,152.68L361.01,151.54L363.07,150.41L365.13,149.29L367.2,148.19L369.26,147.11L371.32,146.04L373.39,144.98L375.45,143.94L377.51,142.92L379.58,141.9L381.64,140.91L383.7,139.92L385.76,138.95L387.83,137.99L389.89,137.04L391.95,136.11L394.02,135.19L396.08,134.29L398.14,133.39L400.21,132.51L402.27,131.64L404.33,130.79L406.39,129.94L408.46,129.11L410.52,128.29L412.58,127.48L414.65,126.69L416.71,125.91L418.77,125.13L420.84,124.38L422.9,123.63L424.96,122.89L427.03,122.17L429.09,121.46L431.15,120.76L433.21,120.07L435.28,119.39L437.34,118.73L439.4,118.08L441.47,117.43L443.53,116.8L445.59,116.18L447.66,115.58L449.72,114.98L451.78,114.4L453.84,113.82L455.91,113.26L457.97,112.71L460.03,112.17L462.1,111.63L464.16,111.11L466.22,110.6L468.29,110.09L470.35,109.59L472.41,109.1L474.47,108.62L476.54,108.14L478.6,107.67L480.66,107.21L482.73,106.75L484.79,106.3L486.85,105.85L488.92,105.41L490.98,104.98L493.04,104.55L495.11,104.12L497.17,103.7L499.23,103.28L501.29,102.87L503.36,102.46L505.42,102.05L507.48,101.65L509.55,101.25L511.61,100.86L513.67,100.46L515.74,100.07L517.8,99.68L519.86,99.3L521.92,98.91L523.99,98.53L526.05,98.15L528.11,97.77L530.18,97.39L532.24,97.01L534.3,96.64L536.37,96.26L538.43,95.89L540.49,95.52L542.55,95.14L544.62,94.77L546.68,94.4L548.74,94.03L550.81,93.66L552.87,93.29L554.93,92.92L557,92.55L559.06,92.17L561.12,91.8L563.18,91.43L565.25,91.06L567.31,90.68L569.37,90.31L571.44,89.93L573.5,89.56" fill="none" stroke="#009a00" stroke-width="1.65"/>
<path d="M328,174.4L330.06,170.82L332.13,168.26L334.19,165.87L336.25,163.57L338.32,161.33L340.38,159.14L342.44,156.98L344.5,154.86L346.57,152.78L348.63,150.72L350.69,148.69L352.76,146.69L354.82,144.71L356.88,142.76L358.95,140.84L361.01,138.94L363.07,137.07L365.13,135.22L367.2,133.4L369.26,131.59L371.32,129.82L373.39,128.07L375.45,126.34L377.51,124.63L379.58,122.95L381.64,121.3L383.7,119.66L385.76,118.05L387.83,116.47L389.89,114.9L391.95,113.36L394.02,111.85L396.08,110.35L398.14,108.88L400.21,107.43L402.27,106.01L404.33,104.61L406.39,103.23L408.46,101.88L410.52,100.55L412.58,99.24L414.65,97.95L416.71,96.69L418.77,95.45L420.84,94.23L422.9,93.04L424.96,91.87L427.03,90.72L429.09,89.59L431.15,88.49L433.21,87.41L435.28,86.35L437.34,85.31L439.4,84.29L441.47,83.29L443.53,82.31L445.59,81.35L447.66,80.4L449.72,79.48L451.78,78.57L453.84,77.69L455.91,76.81L457.97,75.96L460.03,75.12L462.1,74.3L464.16,73.5L466.22,72.71L468.29,71.93L470.35,71.17L472.41,70.43L474.47,69.7L476.54,68.99L478.6,68.29L480.66,67.6L482.73,66.93L484.79,66.27L486.85,65.63L488.92,64.99L490.98,64.38L493.04,63.77L495.11,63.18L497.17,62.6L499.23,62.03L501.29,61.47L503.36,60.93L505.42,60.4L507.48,59.88L509.55,59.37L511.61,58.88L513.67,58.39L515.74,57.92L517.8,57.45L519.86,57L521.92,56.56L523.99,56.13L526.05,55.71L528.11,55.3L530.18,54.9L532.24,54.51L534.3,54.14L536.37,53.77L538.43,53.41L540.49,53.06L542.55,52.72L544.62,52.39L546.68,52.07L548.74,51.76L550.81,51.46L552.87,51.17L554.93,50.89L557,50.62L559.06,50.35L561.12,50.1L563.18,49.85L565.25,49.61L567.31,49.39L569.37,49.17L571.44,48.95L573.5,48.75" fill="none" stroke="#0000ff" stroke-width="1.65" stroke-dasharray="1.15 4.4" stroke-linecap="round"/>
<path d="M328,174.4L330.06,171.25L332.13,169.01L334.19,166.91L336.25,164.89L338.32,162.92L340.38,160.99L342.44,159.1L344.5,157.24L346.57,155.4L348.63,153.6L350.69,151.81L352.76,150.06L354.82,148.32L356.88,146.61L358.95,144.92L361.01,143.25L363.07,141.61L365.13,139.98L367.2,138.38L369.26,136.8L371.32,135.24L373.39,133.7L375.45,132.18L377.51,130.68L379.58,129.21L381.64,127.75L383.7,126.31L385.76,124.9L387.83,123.51L389.89,122.13L391.95,120.78L394.02,119.45L396.08,118.14L398.14,116.84L400.21,115.57L402.27,114.32L404.33,113.09L406.39,111.88L408.46,110.69L410.52,109.52L412.58,108.37L414.65,107.24L416.71,106.13L418.77,105.04L420.84,103.97L422.9,102.93L424.96,101.9L427.03,100.89L429.09,99.9L431.15,98.93L433.21,97.98L435.28,97.05L437.34,96.13L439.4,95.24L441.47,94.36L443.53,93.5L445.59,92.66L447.66,91.83L449.72,91.02L451.78,90.22L453.84,89.44L455.91,88.67L457.97,87.92L460.03,87.19L462.1,86.47L464.16,85.76L466.22,85.07L468.29,84.39L470.35,83.72L472.41,83.07L474.47,82.43L476.54,81.8L478.6,81.18L480.66,80.58L482.73,79.99L484.79,79.41L486.85,78.85L488.92,78.29L490.98,77.75L493.04,77.22L495.11,76.69L497.17,76.19L499.23,75.69L501.29,75.2L503.36,74.72L505.42,74.25L507.48,73.8L509.55,73.35L511.61,72.92L513.67,72.49L515.74,72.07L517.8,71.67L519.86,71.27L521.92,70.88L523.99,70.5L526.05,70.14L528.11,69.78L530.18,69.43L532.24,69.08L534.3,68.75L536.37,68.43L538.43,68.11L540.49,67.81L542.55,67.51L544.62,67.22L546.68,66.94L548.74,66.67L550.81,66.4L552.87,66.15L554.93,65.9L557,65.66L559.06,65.43L561.12,65.2L563.18,64.99L565.25,64.78L567.31,64.58L569.37,64.39L571.44,64.2L573.5,64.02" fill="none" stroke="#0000ff" stroke-width="1.65" stroke-dasharray="1.15 4.4" stroke-linecap="round"/>
<path d="M328,174.4L330.06,170.97L332.13,168.52L334.19,166.24L336.25,164.04L338.32,161.89L340.38,159.79L342.44,157.73L344.5,155.7L346.57,153.71L348.63,151.74L350.69,149.8L352.76,147.88L354.82,145.99L356.88,144.13L358.95,142.29L361.01,140.47L363.07,138.68L365.13,136.91L367.2,135.16L369.26,133.44L371.32,131.74L373.39,130.06L375.45,128.41L377.51,126.78L379.58,125.17L381.64,123.58L383.7,122.02L385.76,120.48L387.83,118.96L389.89,117.46L391.95,115.99L394.02,114.54L396.08,113.11L398.14,111.7L400.21,110.32L402.27,108.96L404.33,107.62L406.39,106.3L408.46,105L410.52,103.73L412.58,102.47L414.65,101.24L416.71,100.03L418.77,98.85L420.84,97.68L422.9,96.54L424.96,95.42L427.03,94.32L429.09,93.24L431.15,92.19L433.21,91.15L435.28,90.14L437.34,89.14L439.4,88.17L441.47,87.21L443.53,86.27L445.59,85.35L447.66,84.45L449.72,83.57L451.78,82.7L453.84,81.85L455.91,81.02L457.97,80.2L460.03,79.4L462.1,78.61L464.16,77.84L466.22,77.09L468.29,76.34L470.35,75.62L472.41,74.91L474.47,74.21L476.54,73.53L478.6,72.86L480.66,72.2L482.73,71.56L484.79,70.93L486.85,70.31L488.92,69.71L490.98,69.11L493.04,68.53L495.11,67.97L497.17,67.41L499.23,66.87L501.29,66.34L503.36,65.82L505.42,65.31L507.48,64.81L509.55,64.33L511.61,63.85L513.67,63.39L515.74,62.93L517.8,62.49L519.86,62.06L521.92,61.64L523.99,61.22L526.05,60.82L528.11,60.43L530.18,60.05L532.24,59.68L534.3,59.31L536.37,58.96L538.43,58.62L540.49,58.29L542.55,57.96L544.62,57.65L546.68,57.34L548.74,57.04L550.81,56.76L552.87,56.48L554.93,56.21L557,55.95L559.06,55.69L561.12,55.45L563.18,55.21L565.25,54.99L567.31,54.77L569.37,54.56L571.44,54.36L573.5,54.16" fill="none" stroke="#0000ff" stroke-width="1.65"/>
<path d="M328,174.4L330.06,170.97L332.13,168.52L334.19,166.24L336.25,164.04L338.32,161.89L340.38,159.79L342.44,157.73L344.5,155.7L346.57,153.71L348.63,151.74L350.69,149.8L352.76,147.88L354.82,145.99L356.88,144.13L358.95,142.29L361.01,140.47L363.07,138.68L365.13,136.91L367.2,135.16L369.26,133.44L371.32,131.74L373.39,130.06L375.45,128.41L377.51,126.78L379.58,125.17L381.64,123.58L383.7,122.02L385.76,120.48L387.83,118.96L389.89,117.46L391.95,115.99L394.02,114.54L396.08,113.11L398.14,111.7L400.21,110.32L402.27,108.96L404.33,107.62L406.39,106.3L408.46,105L410.52,103.73L412.58,102.47L414.65,101.24L416.71,100.03L418.77,98.85L420.84,97.68L422.9,96.54L424.96,95.42L427.03,94.32L429.09,93.24L431.15,92.19L433.21,91.15L435.28,90.14L437.34,89.14L439.4,88.17L441.47,87.21L443.53,86.27L445.59,85.35L447.66,84.45L449.72,83.57L451.78,82.7L453.84,81.85L455.91,81.02L457.97,80.2L460.03,79.4L462.1,78.61L464.16,77.84L466.22,77.09L468.29,76.34L470.35,75.62L472.41,74.91L474.47,74.21L476.54,73.53L478.6,72.86L480.66,72.2L482.73,71.56L484.79,70.93L486.85,70.31L488.92,69.71L490.98,69.11L493.04,68.53L495.11,67.97L497.17,67.41L499.23,66.87L501.29,66.34L503.36,65.82L505.42,65.31L507.48,64.81L509.55,64.33L511.61,63.85L513.67,63.39L515.74,62.93L517.8,62.49L519.86,62.06L521.92,61.64L523.99,61.22L526.05,60.82L528.11,60.43L530.18,60.05L532.24,59.68L534.3,59.31L536.37,58.96L538.43,58.62L540.49,58.29L542.55,57.96L544.62,57.65L546.68,57.34L548.74,57.04L550.81,56.76L552.87,56.48L554.93,56.21L557,55.95L559.06,55.69L561.12,55.45L563.18,55.21L565.25,54.99L567.31,54.77L569.37,54.56L571.44,54.36L573.5,54.16" fill="none" stroke="#ff0000" stroke-width="1.65" stroke-dasharray="6.4 4.4"/>
<path d="M328,174.4L328.11,171.84L328.21,170.77L328.32,169.96L328.42,169.27L328.53,168.67L328.63,168.12L328.74,167.62L328.84,167.15L328.95,166.71L329.06,166.29L329.16,165.9L329.27,165.52L329.37,165.15L329.48,164.81L329.58,164.47L329.69,164.14L329.79,163.83L329.9,163.52L330.01,163.22L330.11,162.93L330.22,162.65L330.32,162.37L330.43,162.1L330.53,161.84L330.64,161.58L330.74,161.32L330.85,161.08L330.96,160.83L331.06,160.59L331.17,160.36L331.27,160.12L331.38,159.89L331.48,159.67L331.59,159.45L331.69,159.23L331.8,159.01L331.91,158.8L332.01,158.59L332.12,158.39L332.92,156.89L333.73,155.51L334.54,154.22L335.35,153.01L336.15,151.86L336.96,150.77L337.77,149.73L338.58,148.73L339.38,147.77L340.19,146.84L341,145.95L341.8,145.08L342.61,144.23L343.42,143.41L344.23,142.61L345.03,141.83L345.84,141.06L346.65,140.32L347.46,139.59L348.26,138.87L349.07,138.17L349.88,137.48L350.68,136.81L351.49,136.15L352.3,135.49L353.11,134.85L353.91,134.22L354.72,133.6L355.53,132.99L356.34,132.39L357.14,131.79L357.95,131.21L358.76,130.63L359.57,130.06L360.37,129.49L361.18,128.94L361.99,128.39L362.79,127.85L363.6,127.31L364.41,126.78L365.22,126.25L366.02,125.73L366.83,125.22L367.64,124.71L368.45,124.21L369.25,123.71L370.06,123.21L370.87,122.73L371.67,122.24L372.48,121.76L373.29,121.29L374.1,120.82L374.9,120.35L375.71,119.88L376.52,119.43L377.33,118.97L378.13,118.52L378.94,118.07L379.75,117.63L380.55,117.18L381.36,116.75L382.17,116.31L382.98,115.88L383.78,115.45L384.59,115.03L385.4,114.61L386.21,114.19L387.01,113.77L387.82,113.36L388.63,112.95L389.44,112.54L390.24,112.13L391.05,111.73L391.86,111.33L392.66,110.93L393.47,110.54L394.28,110.15L395.09,109.76L395.89,109.37L396.7,108.98L397.51,108.6L398.32,108.22L399.12,107.84L399.93,107.46L400.74,107.09L401.54,106.72L402.35,106.35L403.16,105.98L403.97,105.61L404.77,105.25L405.58,104.88L406.39,104.52L407.2,104.16L408,103.81L408.81,103.45L409.62,103.1L410.43,102.75L411.23,102.4L412.04,102.05L412.85,101.7L413.65,101.36L414.46,101.01L415.27,100.67L416.08,100.33L416.88,99.99L417.69,99.65L418.5,99.32L419.31,98.99L420.11,98.65L420.92,98.32L421.73,97.99L422.53,97.66L423.34,97.34L424.15,97.01L424.96,96.69L425.76,96.36L426.57,96.04L427.38,95.72L428.19,95.4L428.99,95.09L429.8,94.77L430.61,94.45L431.41,94.14L432.22,93.83L433.03,93.52L433.84,93.21L434.64,92.9L435.45,92.59L436.26,92.28L437.07,91.98L437.87,91.67L438.68,91.37L439.49,91.07L440.3,90.76L441.1,90.46L441.91,90.17L442.72,89.87L443.52,89.57L444.33,89.27L445.14,88.98L445.95,88.69L446.75,88.39L447.56,88.1L448.37,87.81L449.18,87.52L449.98,87.23L450.79,86.94L451.6,86.66L452.4,86.37L453.21,86.09L454.02,85.8L454.83,85.52L455.63,85.24L456.44,84.95L457.25,84.67L458.06,84.39L458.86,84.11L459.67,83.84L460.48,83.56L461.29,83.28L462.09,83.01L462.9,82.73L463.71,82.46L464.51,82.19L465.32,81.91L466.13,81.64L466.94,81.37L467.74,81.1L468.55,80.83L469.36,80.56L470.17,80.3L470.97,80.03L471.78,79.76L472.59,79.5L473.39,79.23L474.2,78.97L475.01,78.71L475.82,78.44L476.62,78.18L477.43,77.92L478.24,77.66L479.05,77.4L479.85,77.14L480.66,76.88L481.47,76.63L482.27,76.37L483.08,76.11L483.89,75.86L484.7,75.6L485.5,75.35L486.31,75.1L487.12,74.84L487.93,74.59L488.73,74.34L489.54,74.09L490.35,73.84L491.16,73.59L491.96,73.34L492.77,73.09L493.58,72.84L494.38,72.6L495.19,72.35L496,72.1L496.81,71.86L497.61,71.61L498.42,71.37L499.23,71.12L500.04,70.88L500.84,70.64L501.65,70.4L502.46,70.16L503.26,69.91L504.07,69.67L504.88,69.43L505.69,69.19L506.49,68.96L507.3,68.72L508.11,68.48L508.92,68.24L509.72,68.01L510.53,67.77L511.34,67.54L512.15,67.3L512.95,67.07L513.76,66.83L514.57,66.6L515.37,66.37L516.18,66.13L516.99,65.9L517.8,65.67L518.6,65.44L519.41,65.21L520.22,64.98L521.03,64.75L521.83,64.52L522.64,64.29L523.45,64.06L524.25,63.83L525.06,63.61L525.87,63.38L526.68,63.15L527.48,62.93L528.29,62.7L529.1,62.48L529.91,62.25L530.71,62.03L531.52,61.81L532.33,61.58L533.13,61.36L533.94,61.14L534.75,60.92L535.56,60.7L536.36,60.47L537.17,60.25L537.98,60.03L538.79,59.81L539.59,59.6L540.4,59.38L541.21,59.16L542.02,58.94L542.82,58.72L543.63,58.51L544.44,58.29L545.24,58.07L546.05,57.86L546.86,57.64L547.67,57.43L548.47,57.21L549.28,57L550.09,56.78L550.9,56.57L551.7,56.36L552.51,56.14L553.32,55.93L554.12,55.72L554.93,55.51L555.74,55.3L556.55,55.08L557.35,54.87L558.16,54.66L558.97,54.45L559.78,54.24L560.58,54.04L561.39,53.83L562.2,53.62L563.01,53.41L563.81,53.2L564.62,53L565.43,52.79L566.23,52.58L567.04,52.38L567.85,52.17L568.66,51.96L569.46,51.76L570.27,51.55L571.08,51.35L571.89,51.15L572.69,50.94L573.5,50.74" fill="none" stroke="#ff8000" stroke-width="1.65" stroke-dasharray="11.7 10.5" stroke-dashoffset="5.51"/>
<path d="M573.6,174.4L575.66,169.35L577.73,166.24L579.79,163.5L581.85,160.96L583.92,158.56L585.98,156.26L588.04,154.04L590.1,151.9L592.17,149.81L594.23,147.78L596.29,145.8L598.36,143.86L600.42,141.97L602.48,140.12L604.55,138.3L606.61,136.52L608.67,134.78L610.73,133.07L612.8,131.39L614.86,129.74L616.92,128.12L618.99,126.54L621.05,124.98L623.11,123.45L625.18,121.95L627.24,120.48L629.3,119.04L631.36,117.62L633.43,116.23L635.49,114.87L637.55,113.53L639.62,112.22L641.68,110.93L643.74,109.67L645.81,108.43L647.87,107.22L649.93,106.03L651.99,104.87L654.06,103.73L656.12,102.61L658.18,101.52L660.25,100.46L662.31,99.41L664.37,98.39L666.44,97.4L668.5,96.42L670.56,95.47L672.63,94.54L674.69,93.64L676.75,92.76L678.81,91.89L680.88,91.05L682.94,90.23L685,89.42L687.07,88.63L689.13,87.86L691.19,87.1L693.26,86.36L695.32,85.63L697.38,84.91L699.44,84.21L701.51,83.52L703.57,82.84L705.63,82.17L707.7,81.51L709.76,80.86L711.82,80.21L713.89,79.58L715.95,78.96L718.01,78.34L720.07,77.73L722.14,77.12L724.2,76.52L726.26,75.93L728.33,75.34L730.39,74.76L732.45,74.18L734.52,73.6L736.58,73.03L738.64,72.46L740.71,71.9L742.77,71.34L744.83,70.78L746.89,70.22L748.96,69.66L751.02,69.11L753.08,68.55L755.15,68L757.21,67.44L759.27,66.89L761.34,66.34L763.4,65.79L765.46,65.23L767.52,64.68L769.59,64.12L771.65,63.57L773.71,63.01L775.78,62.45L777.84,61.89L779.9,61.33L781.97,60.76L784.03,60.19L786.09,59.62L788.15,59.05L790.22,58.47L792.28,57.9L794.34,57.31L796.41,56.73L798.47,56.14L800.53,55.54L802.6,54.95L804.66,54.35L806.72,53.74L808.78,53.13L810.85,52.51L812.91,51.89L814.97,51.27L817.04,50.64L819.1,50.01" fill="none" stroke="#000000" stroke-width="1.65"/>
<path d="M573.6,174.4L575.66,170.78L577.73,168.53L579.79,166.53L581.85,164.68L583.92,162.91L585.98,161.22L588.04,159.59L590.1,158L592.17,156.45L594.23,154.95L596.29,153.47L598.36,152.03L600.42,150.61L602.48,149.22L604.55,147.86L606.61,146.53L608.67,145.21L610.73,143.92L612.8,142.66L614.86,141.41L616.92,140.19L618.99,138.98L621.05,137.8L623.11,136.64L625.18,135.49L627.24,134.37L629.3,133.26L631.36,132.17L633.43,131.1L635.49,130.04L637.55,129L639.62,127.98L641.68,126.97L643.74,125.97L645.81,124.99L647.87,124.02L649.93,123.07L651.99,122.13L654.06,121.2L656.12,120.28L658.18,119.38L660.25,118.48L662.31,117.6L664.37,116.74L666.44,115.88L668.5,115.03L670.56,114.2L672.63,113.37L674.69,112.56L676.75,111.76L678.81,110.96L680.88,110.18L682.94,109.41L685,108.65L687.07,107.89L689.13,107.15L691.19,106.42L693.26,105.69L695.32,104.98L697.38,104.27L699.44,103.58L701.51,102.89L703.57,102.21L705.63,101.54L707.7,100.88L709.76,100.23L711.82,99.58L713.89,98.95L715.95,98.32L718.01,97.69L720.07,97.08L722.14,96.47L724.2,95.87L726.26,95.28L728.33,94.7L730.39,94.12L732.45,93.55L734.52,92.98L736.58,92.42L738.64,91.87L740.71,91.32L742.77,90.78L744.83,90.25L746.89,89.72L748.96,89.2L751.02,88.68L753.08,88.17L755.15,87.67L757.21,87.17L759.27,86.68L761.34,86.19L763.4,85.71L765.46,85.23L767.52,84.76L769.59,84.29L771.65,83.83L773.71,83.37L775.78,82.92L777.84,82.47L779.9,82.03L781.97,81.6L784.03,81.16L786.09,80.73L788.15,80.31L790.22,79.89L792.28,79.48L794.34,79.07L796.41,78.66L798.47,78.26L800.53,77.86L802.6,77.47L804.66,77.08L806.72,76.7L808.78,76.32L810.85,75.94L812.91,75.57L814.97,75.2L817.04,74.84L819.1,74.48" fill="none" stroke="#009a00" stroke-width="1.65" stroke-dasharray="1.15 4.4" stroke-linecap="round"/>
<path d="M573.6,174.4L575.66,171.17L577.73,169.3L579.79,167.71L581.85,166.25L583.92,164.89L585.98,163.6L588.04,162.36L590.1,161.17L592.17,160.01L594.23,158.89L596.29,157.79L598.36,156.72L600.42,155.67L602.48,154.65L604.55,153.64L606.61,152.65L608.67,151.67L610.73,150.71L612.8,149.77L614.86,148.84L616.92,147.93L618.99,147.03L621.05,146.14L623.11,145.26L625.18,144.39L627.24,143.54L629.3,142.7L631.36,141.86L633.43,141.04L635.49,140.23L637.55,139.43L639.62,138.63L641.68,137.85L643.74,137.08L645.81,136.31L647.87,135.56L649.93,134.81L651.99,134.07L654.06,133.34L656.12,132.62L658.18,131.91L660.25,131.21L662.31,130.51L664.37,129.82L666.44,129.14L668.5,128.47L670.56,127.81L672.63,127.15L674.69,126.5L676.75,125.86L678.81,125.23L680.88,124.6L682.94,123.98L685,123.37L687.07,122.77L689.13,122.17L691.19,121.58L693.26,121L695.32,120.42L697.38,119.85L699.44,119.29L701.51,118.73L703.57,118.19L705.63,117.64L707.7,117.11L709.76,116.58L711.82,116.06L713.89,115.55L715.95,115.04L718.01,114.54L720.07,114.04L722.14,113.55L724.2,113.07L726.26,112.6L728.33,112.13L730.39,111.67L732.45,111.21L734.52,110.76L736.58,110.32L738.64,109.88L740.71,109.45L742.77,109.02L744.83,108.6L746.89,108.19L748.96,107.78L751.02,107.38L753.08,106.99L755.15,106.6L757.21,106.22L759.27,105.84L761.34,105.47L763.4,105.1L765.46,104.74L767.52,104.39L769.59,104.04L771.65,103.7L773.71,103.37L775.78,103.04L777.84,102.71L779.9,102.4L781.97,102.08L784.03,101.78L786.09,101.48L788.15,101.18L790.22,100.89L792.28,100.61L794.34,100.33L796.41,100.06L798.47,99.79L800.53,99.53L802.6,99.27L804.66,99.02L806.72,98.78L808.78,98.54L810.85,98.31L812.91,98.08L814.97,97.86L817.04,97.64L819.1,97.43" fill="none" stroke="#009a00" stroke-width="1.65" stroke-dasharray="1.15 4.4" stroke-linecap="round"/>
<path d="M573.6,174.4L575.66,171.12L577.73,169.14L579.79,167.41L581.85,165.81L583.92,164.3L585.98,162.85L588.04,161.46L590.1,160.11L592.17,158.8L594.23,157.52L596.29,156.27L598.36,155.05L600.42,153.85L602.48,152.67L604.55,151.51L606.61,150.38L608.67,149.26L610.73,148.16L612.8,147.08L614.86,146.02L616.92,144.97L618.99,143.94L621.05,142.92L623.11,141.92L625.18,140.93L627.24,139.96L629.3,139L631.36,138.05L633.43,137.12L635.49,136.2L637.55,135.29L639.62,134.39L641.68,133.51L643.74,132.63L645.81,131.77L647.87,130.92L649.93,130.08L651.99,129.25L654.06,128.43L656.12,127.62L658.18,126.81L660.25,126.02L662.31,125.24L664.37,124.47L666.44,123.7L668.5,122.95L670.56,122.2L672.63,121.47L674.69,120.74L676.75,120.02L678.81,119.31L680.88,118.61L682.94,117.92L685,117.23L687.07,116.55L689.13,115.89L691.19,115.22L693.26,114.57L695.32,113.93L697.38,113.29L699.44,112.66L701.51,112.04L703.57,111.42L705.63,110.82L707.7,110.22L709.76,109.63L711.82,109.04L713.89,108.47L715.95,107.9L718.01,107.33L720.07,106.78L722.14,106.23L724.2,105.69L726.26,105.15L728.33,104.63L730.39,104.11L732.45,103.59L734.52,103.09L736.58,102.58L738.64,102.09L740.71,101.6L742.77,101.12L744.83,100.65L746.89,100.18L748.96,99.72L751.02,99.27L753.08,98.82L755.15,98.38L757.21,97.94L759.27,97.51L761.34,97.09L763.4,96.67L765.46,96.26L767.52,95.86L769.59,95.46L771.65,95.07L773.71,94.68L775.78,94.3L777.84,93.93L779.9,93.56L781.97,93.2L784.03,92.84L786.09,92.49L788.15,92.14L790.22,91.81L792.28,91.47L794.34,91.15L796.41,90.83L798.47,90.51L800.53,90.2L802.6,89.9L804.66,89.6L806.72,89.31L808.78,89.02L810.85,88.74L812.91,88.46L814.97,88.19L817.04,87.93L819.1,87.67" fill="none" stroke="#009a00" stroke-width="1.65"/>
<path d="M573.6,174.4L575.66,170.68L577.73,168.22L579.79,165.99L581.85,163.91L583.92,161.92L585.98,160L588.04,158.15L590.1,156.36L592.17,154.61L594.23,152.91L596.29,151.26L598.36,149.65L600.42,148.08L602.48,146.56L604.55,145.07L606.61,143.61L608.67,142.2L610.73,140.81L612.8,139.47L614.86,138.16L616.92,136.88L618.99,135.64L621.05,134.43L623.11,133.25L625.18,132.11L627.24,131L629.3,129.92L631.36,128.86L633.43,127.83L635.49,126.83L637.55,125.85L639.62,124.89L641.68,123.96L643.74,123.05L645.81,122.16L647.87,121.28L649.93,120.43L651.99,119.59L654.06,118.77L656.12,117.97L658.18,117.18L660.25,116.41L662.31,115.66L664.37,114.92L666.44,114.19L668.5,113.47L670.56,112.77L672.63,112.09L674.69,111.41L676.75,110.75L678.81,110.09L680.88,109.45L682.94,108.82L685,108.21L687.07,107.6L689.13,107L691.19,106.41L693.26,105.83L695.32,105.26L697.38,104.7L699.44,104.15L701.51,103.61L703.57,103.07L705.63,102.55L707.7,102.03L709.76,101.51L711.82,101.01L713.89,100.5L715.95,100.01L718.01,99.52L720.07,99.04L722.14,98.56L724.2,98.08L726.26,97.61L728.33,97.14L730.39,96.68L732.45,96.22L734.52,95.76L736.58,95.31L738.64,94.86L740.71,94.41L742.77,93.96L744.83,93.52L746.89,93.07L748.96,92.63L751.02,92.19L753.08,91.75L755.15,91.32L757.21,90.88L759.27,90.44L761.34,90.01L763.4,89.57L765.46,89.14L767.52,88.7L769.59,88.27L771.65,87.83L773.71,87.39L775.78,86.96L777.84,86.52L779.9,86.08L781.97,85.64L784.03,85.2L786.09,84.76L788.15,84.31L790.22,83.87L792.28,83.42L794.34,82.97L796.41,82.52L798.47,82.07L800.53,81.61L802.6,81.16L804.66,80.7L806.72,80.23L808.78,79.77L810.85,79.3L812.91,78.83L814.97,78.36L817.04,77.88L819.1,77.41" fill="none" stroke="#0000ff" stroke-width="1.65" stroke-dasharray="1.15 4.4" stroke-linecap="round"/>
<path d="M573.6,174.4L575.66,170.97L577.73,168.78L579.79,166.84L581.85,165.03L583.92,163.32L585.98,161.68L588.04,160.11L590.1,158.59L592.17,157.13L594.23,155.71L596.29,154.34L598.36,153.01L600.42,151.71L602.48,150.46L604.55,149.24L606.61,148.06L608.67,146.92L610.73,145.8L612.8,144.72L614.86,143.68L616.92,142.66L618.99,141.68L621.05,140.73L623.11,139.81L625.18,138.92L627.24,138.06L629.3,137.23L631.36,136.42L633.43,135.64L635.49,134.88L637.55,134.15L639.62,133.43L641.68,132.74L643.74,132.06L645.81,131.4L647.87,130.77L649.93,130.14L651.99,129.54L654.06,128.95L656.12,128.38L658.18,127.82L660.25,127.27L662.31,126.74L664.37,126.22L666.44,125.72L668.5,125.23L670.56,124.75L672.63,124.28L674.69,123.82L676.75,123.37L678.81,122.94L680.88,122.51L682.94,122.09L685,121.68L687.07,121.29L689.13,120.9L691.19,120.52L693.26,120.15L695.32,119.78L697.38,119.43L699.44,119.08L701.51,118.74L703.57,118.41L705.63,118.08L707.7,117.76L709.76,117.45L711.82,117.14L713.89,116.83L715.95,116.53L718.01,116.23L720.07,115.94L722.14,115.65L724.2,115.36L726.26,115.08L728.33,114.79L730.39,114.51L732.45,114.24L734.52,113.96L736.58,113.68L738.64,113.4L740.71,113.13L742.77,112.85L744.83,112.58L746.89,112.3L748.96,112.03L751.02,111.75L753.08,111.47L755.15,111.2L757.21,110.92L759.27,110.64L761.34,110.35L763.4,110.07L765.46,109.78L767.52,109.49L769.59,109.2L771.65,108.91L773.71,108.61L775.78,108.31L777.84,108.01L779.9,107.7L781.97,107.39L784.03,107.08L786.09,106.76L788.15,106.44L790.22,106.11L792.28,105.79L794.34,105.45L796.41,105.12L798.47,104.77L800.53,104.43L802.6,104.08L804.66,103.72L806.72,103.36L808.78,102.99L810.85,102.62L812.91,102.24L814.97,101.86L817.04,101.47L819.1,101.08" fill="none" stroke="#0000ff" stroke-width="1.65" stroke-dasharray="1.15 4.4" stroke-linecap="round"/>
<path d="M573.6,174.4L575.66,170.41L577.73,167.99L579.79,165.86L581.85,163.91L583.92,162.07L585.98,160.32L588.04,158.64L590.1,157.02L592.17,155.45L594.23,153.93L596.29,152.46L598.36,151.02L600.42,149.62L602.48,148.26L604.55,146.94L606.61,145.64L608.67,144.38L610.73,143.15L612.8,141.95L614.86,140.77L616.92,139.63L618.99,138.51L621.05,137.42L623.11,136.36L625.18,135.32L627.24,134.3L629.3,133.31L631.36,132.35L633.43,131.4L635.49,130.48L637.55,129.57L639.62,128.68L641.68,127.81L643.74,126.96L645.81,126.13L647.87,125.31L649.93,124.51L651.99,123.72L654.06,122.95L656.12,122.19L658.18,121.45L660.25,120.72L662.31,120L664.37,119.3L666.44,118.61L668.5,117.93L670.56,117.26L672.63,116.61L674.69,115.96L676.75,115.33L678.81,114.71L680.88,114.1L682.94,113.5L685,112.91L687.07,112.33L689.13,111.75L691.19,111.19L693.26,110.64L695.32,110.1L697.38,109.56L699.44,109.04L701.51,108.52L703.57,108.01L705.63,107.51L707.7,107.02L709.76,106.53L711.82,106.06L713.89,105.58L715.95,105.12L718.01,104.66L720.07,104.2L722.14,103.76L724.2,103.31L726.26,102.88L728.33,102.44L730.39,102.02L732.45,101.59L734.52,101.18L736.58,100.76L738.64,100.35L740.71,99.94L742.77,99.54L744.83,99.14L746.89,98.75L748.96,98.35L751.02,97.97L753.08,97.58L755.15,97.19L757.21,96.81L759.27,96.43L761.34,96.06L763.4,95.68L765.46,95.31L767.52,94.94L769.59,94.57L771.65,94.21L773.71,93.84L775.78,93.48L777.84,93.11L779.9,92.75L781.97,92.39L784.03,92.03L786.09,91.68L788.15,91.32L790.22,90.96L792.28,90.61L794.34,90.25L796.41,89.9L798.47,89.54L800.53,89.19L802.6,88.83L804.66,88.48L806.72,88.13L808.78,87.77L810.85,87.42L812.91,87.07L814.97,86.71L817.04,86.36L819.1,86" fill="none" stroke="#0000ff" stroke-width="1.65"/>
<path d="M573.6,174.4L575.66,170.24L577.73,167.81L579.79,165.72L581.85,163.82L583.92,162.03L585.98,160.34L588.04,158.72L590.1,157.16L592.17,155.64L594.23,154.18L596.29,152.75L598.36,151.36L600.42,150L602.48,148.67L604.55,147.37L606.61,146.09L608.67,144.85L610.73,143.62L612.8,142.42L614.86,141.24L616.92,140.09L618.99,138.95L621.05,137.83L623.11,136.74L625.18,135.66L627.24,134.6L629.3,133.56L631.36,132.53L633.43,131.53L635.49,130.54L637.55,129.56L639.62,128.61L641.68,127.67L643.74,126.74L645.81,125.84L647.87,124.94L649.93,124.06L651.99,123.2L654.06,122.35L656.12,121.52L658.18,120.7L660.25,119.9L662.31,119.11L664.37,118.33L666.44,117.57L668.5,116.82L670.56,116.09L672.63,115.37L674.69,114.66L676.75,113.97L678.81,113.29L680.88,112.62L682.94,111.97L685,111.33L687.07,110.7L689.13,110.09L691.19,109.49L693.26,108.9L695.32,108.33L697.38,107.76L699.44,107.21L701.51,106.68L703.57,106.15L705.63,105.64L707.7,105.14L709.76,104.65L711.82,104.17L713.89,103.7L715.95,103.24L718.01,102.79L720.07,102.35L722.14,101.93L724.2,101.51L726.26,101.1L728.33,100.7L730.39,100.31L732.45,99.93L734.52,99.56L736.58,99.2L738.64,98.84L740.71,98.5L742.77,98.16L744.83,97.83L746.89,97.51L748.96,97.19L751.02,96.89L753.08,96.59L755.15,96.3L757.21,96.02L759.27,95.74L761.34,95.47L763.4,95.21L765.46,94.96L767.52,94.71L769.59,94.47L771.65,94.23L773.71,94L775.78,93.78L777.84,93.57L779.9,93.36L781.97,93.15L784.03,92.96L786.09,92.76L788.15,92.58L790.22,92.4L792.28,92.23L794.34,92.06L796.41,91.9L798.47,91.74L800.53,91.59L802.6,91.44L804.66,91.3L806.72,91.16L808.78,91.03L810.85,90.91L812.91,90.79L814.97,90.67L817.04,90.56L819.1,90.45" fill="none" stroke="#ff0000" stroke-width="1.65" stroke-dasharray="6.4 4.4"/>
<path d="M573.6,174.4L573.76,172.13L573.92,171.18L574.09,170.46L574.25,169.85L574.41,169.32L574.57,168.83L574.74,168.38L574.9,167.97L575.06,167.58L575.22,167.21L575.38,166.86L575.55,166.52L575.71,166.2L575.87,165.89L576.03,165.59L576.19,165.31L576.36,165.03L576.52,164.75L576.68,164.49L576.84,164.23L577.01,163.98L577.17,163.74L577.33,163.5L577.49,163.26L577.65,163.03L577.82,162.81L577.98,162.59L578.14,162.37L578.3,162.16L578.46,161.95L578.63,161.74L578.79,161.54L578.95,161.34L579.11,161.14L579.28,160.95L579.44,160.76L579.6,160.57L579.76,160.38L579.92,160.2L580.72,159.33L581.52,158.51L582.32,157.72L583.12,156.98L583.92,156.26L584.72,155.57L585.52,154.9L586.32,154.26L587.12,153.64L587.92,153.03L588.72,152.44L589.52,151.87L590.32,151.31L591.12,150.77L591.92,150.23L592.72,149.71L593.52,149.2L594.32,148.7L595.12,148.21L595.92,147.72L596.72,147.25L597.52,146.78L598.32,146.33L599.12,145.88L599.92,145.43L600.72,145L601.52,144.57L602.32,144.14L603.12,143.72L603.92,143.31L604.72,142.9L605.52,142.5L606.32,142.1L607.12,141.71L607.92,141.32L608.72,140.94L609.52,140.56L610.32,140.19L611.12,139.81L611.92,139.45L612.72,139.09L613.52,138.73L614.32,138.37L615.12,138.02L615.92,137.67L616.72,137.32L617.52,136.98L618.32,136.64L619.12,136.31L619.92,135.97L620.72,135.64L621.52,135.32L622.32,134.99L623.12,134.67L623.92,134.35L624.72,134.03L625.52,133.72L626.32,133.4L627.12,133.09L627.92,132.79L628.72,132.48L629.52,132.18L630.32,131.88L631.12,131.58L631.92,131.28L632.72,130.99L633.52,130.69L634.32,130.4L635.12,130.12L635.92,129.83L636.72,129.54L637.52,129.26L638.32,128.98L639.12,128.7L639.92,128.42L640.72,128.14L641.52,127.87L642.32,127.6L643.12,127.32L643.92,127.05L644.72,126.79L645.52,126.52L646.32,126.25L647.12,125.99L647.92,125.73L648.72,125.46L649.52,125.2L650.32,124.95L651.12,124.69L651.92,124.43L652.72,124.18L653.52,123.93L654.32,123.67L655.12,123.42L655.92,123.17L656.72,122.93L657.52,122.68L658.32,122.43L659.12,122.19L659.92,121.94L660.72,121.7L661.52,121.46L662.32,121.22L663.12,120.98L663.92,120.74L664.72,120.51L665.52,120.27L666.32,120.03L667.12,119.8L667.92,119.57L668.72,119.33L669.52,119.1L670.31,118.87L671.11,118.64L671.91,118.42L672.71,118.19L673.51,117.96L674.31,117.74L675.11,117.51L675.91,117.29L676.71,117.07L677.51,116.84L678.31,116.62L679.11,116.4L679.91,116.18L680.71,115.96L681.51,115.75L682.31,115.53L683.11,115.31L683.91,115.1L684.71,114.88L685.51,114.67L686.31,114.46L687.11,114.24L687.91,114.03L688.71,113.82L689.51,113.61L690.31,113.4L691.11,113.19L691.91,112.99L692.71,112.78L693.51,112.57L694.31,112.37L695.11,112.16L695.91,111.96L696.71,111.75L697.51,111.55L698.31,111.35L699.11,111.14L699.91,110.94L700.71,110.74L701.51,110.54L702.31,110.34L703.11,110.15L703.91,109.95L704.71,109.75L705.51,109.55L706.31,109.36L707.11,109.16L707.91,108.97L708.71,108.77L709.51,108.58L710.31,108.38L711.11,108.19L711.91,108L712.71,107.81L713.51,107.62L714.31,107.42L715.11,107.23L715.91,107.04L716.71,106.86L717.51,106.67L718.31,106.48L719.11,106.29L719.91,106.1L720.71,105.92L721.51,105.73L722.31,105.55L723.11,105.36L723.91,105.18L724.71,104.99L725.51,104.81L726.31,104.63L727.11,104.44L727.91,104.26L728.71,104.08L729.51,103.9L730.31,103.72L731.11,103.54L731.91,103.36L732.71,103.18L733.51,103L734.31,102.82L735.11,102.65L735.91,102.47L736.71,102.29L737.51,102.11L738.31,101.94L739.11,101.76L739.91,101.59L740.71,101.41L741.51,101.24L742.31,101.06L743.11,100.89L743.91,100.72L744.71,100.54L745.51,100.37L746.31,100.2L747.11,100.03L747.91,99.86L748.71,99.69L749.51,99.52L750.31,99.35L751.11,99.18L751.91,99.01L752.71,98.84L753.51,98.67L754.31,98.5L755.11,98.33L755.91,98.17L756.71,98L757.51,97.83L758.31,97.67L759.11,97.5L759.91,97.33L760.71,97.17L761.51,97L762.31,96.84L763.11,96.67L763.91,96.51L764.71,96.35L765.51,96.18L766.31,96.02L767.11,95.86L767.91,95.7L768.71,95.53L769.5,95.37L770.3,95.21L771.1,95.05L771.9,94.89L772.7,94.73L773.5,94.57L774.3,94.41L775.1,94.25L775.9,94.09L776.7,93.93L777.5,93.78L778.3,93.62L779.1,93.46L779.9,93.3L780.7,93.15L781.5,92.99L782.3,92.83L783.1,92.68L783.9,92.52L784.7,92.36L785.5,92.21L786.3,92.05L787.1,91.9L787.9,91.75L788.7,91.59L789.5,91.44L790.3,91.28L791.1,91.13L791.9,90.98L792.7,90.83L793.5,90.67L794.3,90.52L795.1,90.37L795.9,90.22L796.7,90.07L797.5,89.91L798.3,89.76L799.1,89.61L799.9,89.46L800.7,89.31L801.5,89.16L802.3,89.01L803.1,88.86L803.9,88.72L804.7,88.57L805.5,88.42L806.3,88.27L807.1,88.12L807.9,87.97L808.7,87.83L809.5,87.68L810.3,87.53L811.1,87.39L811.9,87.24L812.7,87.09L813.5,86.95L814.3,86.8L815.1,86.66L815.9,86.51L816.7,86.37L817.5,86.22L818.3,86.08L819.1,85.93" fill="none" stroke="#ff8000" stroke-width="1.65" stroke-dasharray="11.7 10.5" stroke-dashoffset="6.3"/>
<path d="M205.5,369.9L206.32,328.87L207.14,322L207.96,316.59L208.78,311.68L209.61,307.01L210.43,302.51L211.25,298.15L212.07,293.92L212.89,289.82L213.71,285.9L214.53,282.17L215.35,278.65L216.17,275.34L216.99,272.23L217.82,269.33L218.64,266.62L219.46,264.1L220.28,261.77L221.1,259.61L221.92,257.62L222.74,255.78L223.56,254.07L224.38,252.47L225.21,250.99L226.03,249.6L226.85,248.3L227.67,247.08L228.49,245.93L229.31,244.85L230.13,243.83L230.95,242.87L231.77,241.97L232.6,241.11L233.42,240.3L234.24,239.53L235.06,238.8L235.88,238.1L236.7,237.44L237.52,236.82L238.34,236.22L239.16,235.65L239.98,235.11L240.81,234.59L241.63,234.1L242.45,233.63L243.27,233.19L244.09,232.76L244.91,232.36L245.73,231.97L246.55,231.6L247.37,231.25L248.2,230.92L249.02,230.6L249.84,230.3L250.66,230.01L251.48,229.73L252.3,229.47L253.12,229.22L253.94,228.98L254.76,228.76L255.59,228.54L256.41,228.34L257.23,228.15L258.05,227.96L258.87,227.79L259.69,227.62L260.51,227.47L261.33,227.32L262.15,227.18L262.97,227.05L263.8,226.93L264.62,226.81L265.44,226.7L266.26,226.6L267.08,226.5L267.9,226.41L268.72,226.33L269.54,226.25L270.36,226.18L271.19,226.11L272.01,226.05L272.83,226L273.65,225.95L274.47,225.9L275.29,225.86L276.11,225.82L276.93,225.79L277.75,225.76L278.58,225.74L279.4,225.72L280.22,225.7L281.04,225.69L281.86,225.68L282.68,225.68L283.5,225.68L284.32,225.68L285.14,225.68L285.96,225.69L286.79,225.7L287.61,225.72L288.43,225.74L289.25,225.76L290.07,225.78L290.89,225.81L291.71,225.84L292.53,225.87L293.35,225.9L294.18,225.94L295,225.98L295.82,226.02L296.64,226.06L297.46,226.1L298.28,226.15L299.1,226.2L299.92,226.25L300.74,226.3L301.57,226.36L302.39,226.42L303.21,226.47L304.03,226.53L304.85,226.6L305.67,226.66L306.49,226.73L307.31,226.79L308.13,226.86L308.95,226.93L309.78,227L310.6,227.07L311.42,227.15L312.24,227.22L313.06,227.3L313.88,227.38L314.7,227.46L315.52,227.54L316.34,227.62L317.17,227.7L317.99,227.78L318.81,227.87L319.63,227.96L320.45,228.04L321.27,228.13L322.09,228.22L322.91,228.31L323.73,228.4L324.56,228.49L325.38,228.58L326.2,228.68L327.02,228.77L327.84,228.86L328.66,228.96L329.48,229.06L330.3,229.15L331.12,229.25L331.94,229.35L332.77,229.45L333.59,229.55L334.41,229.65L335.23,229.75L336.05,229.85L336.87,229.95L337.69,230.06L338.51,230.16L339.33,230.26L340.16,230.37L340.98,230.47L341.8,230.58L342.62,230.68L343.44,230.79L344.26,230.89L345.08,231L345.9,231.11L346.72,231.22L347.55,231.33L348.37,231.43L349.19,231.54L350.01,231.65L350.83,231.76L351.65,231.87L352.47,231.98L353.29,232.09L354.11,232.2L354.93,232.32L355.76,232.43L356.58,232.54L357.4,232.65L358.22,232.76L359.04,232.88L359.86,232.99L360.68,233.1L361.5,233.21L362.32,233.33L363.15,233.44L363.97,233.55L364.79,233.67L365.61,233.78L366.43,233.9L367.25,234.01L368.07,234.13L368.89,234.24L369.71,234.35L370.54,234.47L371.36,234.58L372.18,234.7L373,234.82L373.82,234.93L374.64,235.05L375.46,235.16L376.28,235.28L377.1,235.39L377.92,235.51L378.75,235.62L379.57,235.74L380.39,235.86L381.21,235.97L382.03,236.09L382.85,236.2L383.67,236.32L384.49,236.43L385.31,236.55L386.14,236.67L386.96,236.78L387.78,236.9L388.6,237.01L389.42,237.13L390.24,237.25L391.06,237.36L391.88,237.48L392.7,237.59L393.53,237.71L394.35,237.83L395.17,237.94L395.99,238.06L396.81,238.17L397.63,238.29L398.45,238.4L399.27,238.52L400.09,238.63L400.91,238.75L401.74,238.87L402.56,238.98L403.38,239.1L404.2,239.21L405.02,239.33L405.84,239.44L406.66,239.56L407.48,239.67L408.3,239.78L409.13,239.9L409.95,240.01L410.77,240.13L411.59,240.24L412.41,240.36L413.23,240.47L414.05,240.58L414.87,240.7L415.69,240.81L416.52,240.92L417.34,241.04L418.16,241.15L418.98,241.26L419.8,241.38L420.62,241.49L421.44,241.6L422.26,241.71L423.08,241.83L423.9,241.94L424.73,242.05L425.55,242.16L426.37,242.28L427.19,242.39L428.01,242.5L428.83,242.61L429.65,242.72L430.47,242.83L431.29,242.94L432.12,243.05L432.94,243.16L433.76,243.27L434.58,243.38L435.4,243.49L436.22,243.6L437.04,243.71L437.86,243.82L438.68,243.93L439.51,244.04L440.33,244.15L441.15,244.26L441.97,244.37L442.79,244.48L443.61,244.58L444.43,244.69L445.25,244.8L446.07,244.91L446.89,245.02L447.72,245.12L448.54,245.23L449.36,245.34L450.18,245.44L451,245.55" fill="none" stroke="#000000" stroke-width="1.65"/>
<path d="M205.5,369.9L206.32,367.26L207.14,365.58L207.96,364.07L208.78,362.66L209.61,361.32L210.43,360.03L211.25,358.77L212.07,357.55L212.89,356.35L213.71,355.18L214.53,354.04L215.35,352.91L216.17,351.81L216.99,350.72L217.82,349.66L218.64,348.61L219.46,347.58L220.28,346.56L221.1,345.56L221.92,344.58L222.74,343.61L223.56,342.66L224.38,341.72L225.21,340.8L226.03,339.89L226.85,338.99L227.67,338.11L228.49,337.24L229.31,336.38L230.13,335.54L230.95,334.71L231.77,333.9L232.6,333.1L233.42,332.31L234.24,331.53L235.06,330.76L235.88,330.01L236.7,329.26L237.52,328.53L238.34,327.81L239.16,327.1L239.98,326.4L240.81,325.7L241.63,325.02L242.45,324.35L243.27,323.68L244.09,323.03L244.91,322.38L245.73,321.74L246.55,321.11L247.37,320.49L248.2,319.88L249.02,319.27L249.84,318.68L250.66,318.09L251.48,317.5L252.3,316.93L253.12,316.36L253.94,315.8L254.76,315.25L255.59,314.7L256.41,314.16L257.23,313.63L258.05,313.11L258.87,312.59L259.69,312.08L260.51,311.57L261.33,311.07L262.15,310.58L262.97,310.09L263.8,309.61L264.62,309.13L265.44,308.67L266.26,308.2L267.08,307.75L267.9,307.3L268.72,306.85L269.54,306.41L270.36,305.98L271.19,305.55L272.01,305.13L272.83,304.71L273.65,304.3L274.47,303.89L275.29,303.49L276.11,303.09L276.93,302.7L277.75,302.31L278.58,301.93L279.4,301.55L280.22,301.18L281.04,300.81L281.86,300.45L282.68,300.09L283.5,299.73L284.32,299.38L285.14,299.04L285.96,298.69L286.79,298.36L287.61,298.02L288.43,297.69L289.25,297.37L290.07,297.04L290.89,296.73L291.71,296.41L292.53,296.1L293.35,295.79L294.18,295.49L295,295.19L295.82,294.89L296.64,294.6L297.46,294.31L298.28,294.03L299.1,293.75L299.92,293.47L300.74,293.19L301.57,292.92L302.39,292.65L303.21,292.38L304.03,292.12L304.85,291.86L305.67,291.6L306.49,291.35L307.31,291.1L308.13,290.85L308.95,290.61L309.78,290.37L310.6,290.13L311.42,289.89L312.24,289.66L313.06,289.43L313.88,289.2L314.7,288.97L315.52,288.75L316.34,288.53L317.17,288.32L317.99,288.1L318.81,287.89L319.63,287.68L320.45,287.47L321.27,287.27L322.09,287.07L322.91,286.87L323.73,286.67L324.56,286.48L325.38,286.29L326.2,286.1L327.02,285.91L327.84,285.72L328.66,285.54L329.48,285.36L330.3,285.18L331.12,285.01L331.94,284.83L332.77,284.66L333.59,284.49L334.41,284.32L335.23,284.16L336.05,284L336.87,283.84L337.69,283.68L338.51,283.52L339.33,283.37L340.16,283.21L340.98,283.06L341.8,282.91L342.62,282.77L343.44,282.62L344.26,282.48L345.08,282.34L345.9,282.2L346.72,282.06L347.55,281.93L348.37,281.79L349.19,281.66L350.01,281.53L350.83,281.4L351.65,281.28L352.47,281.15L353.29,281.03L354.11,280.91L354.93,280.79L355.76,280.67L356.58,280.56L357.4,280.44L358.22,280.33L359.04,280.22L359.86,280.11L360.68,280L361.5,279.9L362.32,279.79L363.15,279.69L363.97,279.59L364.79,279.49L365.61,279.39L366.43,279.29L367.25,279.2L368.07,279.1L368.89,279.01L369.71,278.92L370.54,278.83L371.36,278.75L372.18,278.66L373,278.58L373.82,278.49L374.64,278.41L375.46,278.33L376.28,278.25L377.1,278.17L377.92,278.1L378.75,278.02L379.57,277.95L380.39,277.88L381.21,277.81L382.03,277.74L382.85,277.67L383.67,277.6L384.49,277.54L385.31,277.48L386.14,277.41L386.96,277.35L387.78,277.29L388.6,277.23L389.42,277.18L390.24,277.12L391.06,277.06L391.88,277.01L392.7,276.96L393.53,276.91L394.35,276.86L395.17,276.81L395.99,276.76L396.81,276.71L397.63,276.67L398.45,276.62L399.27,276.58L400.09,276.54L400.91,276.5L401.74,276.46L402.56,276.42L403.38,276.38L404.2,276.35L405.02,276.31L405.84,276.28L406.66,276.25L407.48,276.21L408.3,276.18L409.13,276.15L409.95,276.12L410.77,276.1L411.59,276.07L412.41,276.05L413.23,276.02L414.05,276L414.87,275.98L415.69,275.95L416.52,275.93L417.34,275.92L418.16,275.9L418.98,275.88L419.8,275.86L420.62,275.85L421.44,275.83L422.26,275.82L423.08,275.81L423.9,275.8L424.73,275.79L425.55,275.78L426.37,275.77L427.19,275.76L428.01,275.76L428.83,275.75L429.65,275.74L430.47,275.74L431.29,275.74L432.12,275.74L432.94,275.74L433.76,275.73L434.58,275.74L435.4,275.74L436.22,275.74L437.04,275.74L437.86,275.75L438.68,275.75L439.51,275.76L440.33,275.77L441.15,275.77L441.97,275.78L442.79,275.79L443.61,275.8L444.43,275.81L445.25,275.82L446.07,275.84L446.89,275.85L447.72,275.86L448.54,275.88L449.36,275.89L450.18,275.91L451,275.93" fill="none" stroke="#009a00" stroke-width="1.65" stroke-dasharray="1.15 4.4" stroke-linecap="round"/>
<path d="M205.5,369.9L206.32,367.42L207.14,365.9L207.96,364.56L208.78,363.31L209.61,362.13L210.43,360.99L211.25,359.89L212.07,358.82L212.89,357.78L213.71,356.76L214.53,355.76L215.35,354.77L216.17,353.81L216.99,352.86L217.82,351.92L218.64,351L219.46,350.09L220.28,349.19L221.1,348.31L221.92,347.44L222.74,346.58L223.56,345.73L224.38,344.89L225.21,344.06L226.03,343.24L226.85,342.43L227.67,341.64L228.49,340.85L229.31,340.07L230.13,339.3L230.95,338.54L231.77,337.79L232.6,337.05L233.42,336.31L234.24,335.59L235.06,334.87L235.88,334.17L236.7,333.47L237.52,332.78L238.34,332.1L239.16,331.42L239.98,330.76L240.81,330.1L241.63,329.45L242.45,328.81L243.27,328.18L244.09,327.56L244.91,326.94L245.73,326.33L246.55,325.73L247.37,325.14L248.2,324.56L249.02,323.98L249.84,323.41L250.66,322.85L251.48,322.29L252.3,321.75L253.12,321.21L253.94,320.68L254.76,320.15L255.59,319.64L256.41,319.13L257.23,318.63L258.05,318.14L258.87,317.65L259.69,317.17L260.51,316.7L261.33,316.23L262.15,315.78L262.97,315.33L263.8,314.89L264.62,314.45L265.44,314.02L266.26,313.6L267.08,313.19L267.9,312.79L268.72,312.39L269.54,311.99L270.36,311.61L271.19,311.23L272.01,310.86L272.83,310.5L273.65,310.14L274.47,309.79L275.29,309.44L276.11,309.11L276.93,308.77L277.75,308.45L278.58,308.12L279.4,307.81L280.22,307.5L281.04,307.19L281.86,306.89L282.68,306.6L283.5,306.31L284.32,306.03L285.14,305.75L285.96,305.47L286.79,305.2L287.61,304.93L288.43,304.67L289.25,304.42L290.07,304.16L290.89,303.92L291.71,303.67L292.53,303.43L293.35,303.2L294.18,302.96L295,302.74L295.82,302.51L296.64,302.29L297.46,302.07L298.28,301.86L299.1,301.65L299.92,301.44L300.74,301.24L301.57,301.04L302.39,300.84L303.21,300.65L304.03,300.46L304.85,300.27L305.67,300.09L306.49,299.91L307.31,299.73L308.13,299.55L308.95,299.38L309.78,299.21L310.6,299.04L311.42,298.87L312.24,298.71L313.06,298.55L313.88,298.39L314.7,298.24L315.52,298.09L316.34,297.94L317.17,297.79L317.99,297.64L318.81,297.5L319.63,297.36L320.45,297.22L321.27,297.08L322.09,296.94L322.91,296.81L323.73,296.68L324.56,296.55L325.38,296.42L326.2,296.3L327.02,296.17L327.84,296.05L328.66,295.93L329.48,295.81L330.3,295.7L331.12,295.58L331.94,295.47L332.77,295.35L333.59,295.24L334.41,295.14L335.23,295.03L336.05,294.92L336.87,294.82L337.69,294.71L338.51,294.61L339.33,294.51L340.16,294.41L340.98,294.31L341.8,294.22L342.62,294.12L343.44,294.03L344.26,293.93L345.08,293.84L345.9,293.75L346.72,293.66L347.55,293.57L348.37,293.48L349.19,293.4L350.01,293.31L350.83,293.23L351.65,293.14L352.47,293.06L353.29,292.98L354.11,292.9L354.93,292.82L355.76,292.74L356.58,292.66L357.4,292.58L358.22,292.5L359.04,292.43L359.86,292.35L360.68,292.28L361.5,292.2L362.32,292.13L363.15,292.06L363.97,291.99L364.79,291.91L365.61,291.84L366.43,291.77L367.25,291.7L368.07,291.63L368.89,291.56L369.71,291.5L370.54,291.43L371.36,291.36L372.18,291.29L373,291.23L373.82,291.16L374.64,291.1L375.46,291.03L376.28,290.97L377.1,290.9L377.92,290.84L378.75,290.77L379.57,290.71L380.39,290.65L381.21,290.58L382.03,290.52L382.85,290.46L383.67,290.4L384.49,290.34L385.31,290.28L386.14,290.22L386.96,290.16L387.78,290.1L388.6,290.05L389.42,289.99L390.24,289.93L391.06,289.88L391.88,289.82L392.7,289.77L393.53,289.72L394.35,289.67L395.17,289.61L395.99,289.56L396.81,289.51L397.63,289.46L398.45,289.41L399.27,289.37L400.09,289.32L400.91,289.27L401.74,289.23L402.56,289.18L403.38,289.14L404.2,289.1L405.02,289.06L405.84,289.02L406.66,288.98L407.48,288.94L408.3,288.9L409.13,288.86L409.95,288.83L410.77,288.79L411.59,288.76L412.41,288.73L413.23,288.7L414.05,288.67L414.87,288.64L415.69,288.61L416.52,288.58L417.34,288.55L418.16,288.53L418.98,288.5L419.8,288.48L420.62,288.46L421.44,288.44L422.26,288.42L423.08,288.4L423.9,288.39L424.73,288.37L425.55,288.36L426.37,288.34L427.19,288.33L428.01,288.32L428.83,288.31L429.65,288.3L430.47,288.29L431.29,288.29L432.12,288.28L432.94,288.28L433.76,288.28L434.58,288.28L435.4,288.28L436.22,288.28L437.04,288.29L437.86,288.29L438.68,288.3L439.51,288.3L440.33,288.31L441.15,288.32L441.97,288.34L442.79,288.35L443.61,288.36L444.43,288.38L445.25,288.4L446.07,288.42L446.89,288.44L447.72,288.46L448.54,288.48L449.36,288.51L450.18,288.53L451,288.56" fill="none" stroke="#009a00" stroke-width="1.65" stroke-dasharray="1.15 4.4" stroke-linecap="round"/>
<path d="M205.5,369.9L206.32,368.08L207.14,365.75L207.96,363.31L208.78,360.87L209.61,358.45L210.43,356.09L211.25,353.8L212.07,351.58L212.89,349.45L213.71,347.42L214.53,345.47L215.35,343.62L216.17,341.83L216.99,340.13L217.82,338.48L218.64,336.91L219.46,335.39L220.28,333.92L221.1,332.51L221.92,331.16L222.74,329.85L223.56,328.59L224.38,327.38L225.21,326.21L226.03,325.08L226.85,323.99L227.67,322.95L228.49,321.94L229.31,320.97L230.13,320.04L230.95,319.14L231.77,318.28L232.6,317.45L233.42,316.65L234.24,315.88L235.06,315.14L235.88,314.43L236.7,313.75L237.52,313.1L238.34,312.47L239.16,311.87L239.98,311.3L240.81,310.76L241.63,310.24L242.45,309.74L243.27,309.27L244.09,308.82L244.91,308.4L245.73,308L246.55,307.62L247.37,307.26L248.2,306.93L249.02,306.61L249.84,306.32L250.66,306.05L251.48,305.8L252.3,305.56L253.12,305.34L253.94,305.14L254.76,304.96L255.59,304.78L256.41,304.63L257.23,304.49L258.05,304.36L258.87,304.24L259.69,304.14L260.51,304.04L261.33,303.96L262.15,303.89L262.97,303.83L263.8,303.77L264.62,303.73L265.44,303.69L266.26,303.67L267.08,303.65L267.9,303.63L268.72,303.63L269.54,303.63L270.36,303.64L271.19,303.65L272.01,303.67L272.83,303.69L273.65,303.72L274.47,303.75L275.29,303.79L276.11,303.83L276.93,303.88L277.75,303.93L278.58,303.99L279.4,304.05L280.22,304.12L281.04,304.19L281.86,304.26L282.68,304.34L283.5,304.42L284.32,304.5L285.14,304.59L285.96,304.69L286.79,304.78L287.61,304.88L288.43,304.98L289.25,305.09L290.07,305.2L290.89,305.31L291.71,305.42L292.53,305.54L293.35,305.66L294.18,305.79L295,305.91L295.82,306.04L296.64,306.17L297.46,306.31L298.28,306.44L299.1,306.58L299.92,306.72L300.74,306.87L301.57,307.01L302.39,307.16L303.21,307.31L304.03,307.46L304.85,307.62L305.67,307.77L306.49,307.93L307.31,308.09L308.13,308.25L308.95,308.41L309.78,308.58L310.6,308.74L311.42,308.91L312.24,309.08L313.06,309.25L313.88,309.43L314.7,309.6L315.52,309.78L316.34,309.95L317.17,310.13L317.99,310.31L318.81,310.49L319.63,310.67L320.45,310.86L321.27,311.04L322.09,311.22L322.91,311.41L323.73,311.6L324.56,311.79L325.38,311.98L326.2,312.17L327.02,312.36L327.84,312.55L328.66,312.74L329.48,312.93L330.3,313.13L331.12,313.32L331.94,313.52L332.77,313.71L333.59,313.91L334.41,314.11L335.23,314.31L336.05,314.5L336.87,314.7L337.69,314.9L338.51,315.1L339.33,315.3L340.16,315.5L340.98,315.7L341.8,315.9L342.62,316.11L343.44,316.31L344.26,316.51L345.08,316.71L345.9,316.91L346.72,317.12L347.55,317.32L348.37,317.52L349.19,317.73L350.01,317.93L350.83,318.13L351.65,318.34L352.47,318.54L353.29,318.74L354.11,318.95L354.93,319.15L355.76,319.36L356.58,319.56L357.4,319.76L358.22,319.97L359.04,320.17L359.86,320.37L360.68,320.58L361.5,320.78L362.32,320.98L363.15,321.18L363.97,321.39L364.79,321.59L365.61,321.79L366.43,321.99L367.25,322.19L368.07,322.39L368.89,322.59L369.71,322.79L370.54,322.99L371.36,323.19L372.18,323.39L373,323.59L373.82,323.79L374.64,323.99L375.46,324.19L376.28,324.38L377.1,324.58L377.92,324.78L378.75,324.97L379.57,325.17L380.39,325.36L381.21,325.55L382.03,325.75L382.85,325.94L383.67,326.13L384.49,326.32L385.31,326.52L386.14,326.71L386.96,326.9L387.78,327.08L388.6,327.27L389.42,327.46L390.24,327.65L391.06,327.83L391.88,328.02L392.7,328.21L393.53,328.39L394.35,328.57L395.17,328.76L395.99,328.94L396.81,329.12L397.63,329.3L398.45,329.48L399.27,329.66L400.09,329.84L400.91,330.01L401.74,330.19L402.56,330.36L403.38,330.54L404.2,330.71L405.02,330.89L405.84,331.06L406.66,331.23L407.48,331.4L408.3,331.57L409.13,331.74L409.95,331.9L410.77,332.07L411.59,332.24L412.41,332.4L413.23,332.56L414.05,332.73L414.87,332.89L415.69,333.05L416.52,333.21L417.34,333.37L418.16,333.52L418.98,333.68L419.8,333.84L420.62,333.99L421.44,334.14L422.26,334.29L423.08,334.45L423.9,334.6L424.73,334.74L425.55,334.89L426.37,335.04L427.19,335.18L428.01,335.33L428.83,335.47L429.65,335.61L430.47,335.76L431.29,335.9L432.12,336.03L432.94,336.17L433.76,336.31L434.58,336.44L435.4,336.58L436.22,336.71L437.04,336.84L437.86,336.97L438.68,337.1L439.51,337.23L440.33,337.36L441.15,337.48L441.97,337.6L442.79,337.73L443.61,337.85L444.43,337.97L445.25,338.09L446.07,338.21L446.89,338.32L447.72,338.44L448.54,338.55L449.36,338.66L450.18,338.78L451,338.89" fill="none" stroke="#0000ff" stroke-width="1.65" stroke-dasharray="1.15 4.4" stroke-linecap="round"/>
<path d="M205.5,369.9L206.18,368.12L206.87,366.32L207.55,364.51L208.23,362.68L208.92,360.82L209.6,358.94L210.28,357.05L210.96,355.16L211.65,353.28L212.33,351.4L213.01,349.52L213.7,347.65L214.38,345.67L215.06,343.68L215.75,341.88L216.43,340.43L217.11,339.17L217.79,338.02L218.48,336.97L219.16,335.98L219.84,335.05L220.53,334.13L221.21,333.23L221.89,332.36L222.58,331.5L223.26,330.68L223.94,329.88L224.63,329.1L225.31,328.35L225.99,327.63L226.67,326.93L227.36,326.26L228.04,325.61L228.72,324.99L229.41,324.39L230.09,323.81L230.77,323.25L231.46,322.7L232.14,322.16L232.82,321.64L233.51,321.13L234.19,320.63L234.87,320.14L235.55,319.65L236.24,319.17L236.92,318.69L237.6,318.19L238.29,317.68L238.97,317.15L239.65,316.61L240.34,316.07L241.02,315.53L241.7,315.01L242.38,314.49L243.07,314L243.75,313.54L244.43,313.11L245.12,312.72L245.8,312.38L246.48,312.08L247.17,311.85L247.85,311.68L248.53,311.55L249.22,311.44L249.9,311.32L250.58,311.22L251.26,311.11L251.95,311.01L252.63,310.92L253.31,310.83L254,310.74L254.68,310.66L255.36,310.59L256.05,310.52L256.73,310.46L257.41,310.4L258.1,310.35L258.78,310.31L259.46,310.27L260.14,310.24L260.83,310.21L261.51,310.19L262.19,310.18L262.88,310.18L263.56,310.2L264.24,310.24L264.93,310.3L265.61,310.37L266.29,310.46L266.97,310.56L267.66,310.66L268.34,310.77L269.02,310.87L269.71,310.98L270.39,311.09L271.07,311.21L271.76,311.33L272.44,311.47L273.12,311.61L273.81,311.76L274.49,311.92L275.17,312.08L275.85,312.24L276.54,312.42L277.22,312.6L277.9,312.78L278.59,312.97L279.27,313.16L279.95,313.35L280.64,313.55L281.32,313.76L282,313.96L282.68,314.17L283.37,314.38L284.05,314.59L284.73,314.8L285.42,315.01L286.1,315.23L286.78,315.44L287.47,315.66L288.15,315.87L288.83,316.09L289.52,316.3L290.2,316.51L290.88,316.72L291.56,316.93L292.25,317.15L292.93,317.36L293.61,317.59L294.3,317.81L294.98,318.04L295.66,318.26L296.35,318.5L297.03,318.73L297.71,318.97L298.4,319.2L299.08,319.44L299.76,319.69L300.44,319.93L301.13,320.18L301.81,320.43L302.49,320.68L303.18,320.93L303.86,321.18L304.54,321.43L305.23,321.69L305.91,321.95L306.59,322.21L307.27,322.47L307.96,322.73L308.64,322.99L309.32,323.25L310.01,323.52L310.69,323.78L311.37,324.05L312.06,324.32L312.74,324.58L313.42,324.86L314.11,325.13L314.79,325.41L315.47,325.69L316.15,325.97L316.84,326.25L317.52,326.54L318.2,326.83L318.89,327.12L319.57,327.41L320.25,327.7L320.94,328L321.62,328.29L322.3,328.59L322.98,328.89L323.67,329.19L324.35,329.49L325.03,329.79L325.72,330.09L326.4,330.4L327.08,330.7L327.77,331L328.45,331.3L329.13,331.61L329.82,331.91L330.5,332.22L331.18,332.53L331.86,332.85L332.55,333.17L333.23,333.51L333.91,333.86L334.6,334.21L335.28,334.57L335.96,334.94L336.65,335.31L337.33,335.69L338.01,336.07L338.7,336.46L339.38,336.85L340.06,337.24L340.74,337.63L341.43,338.03L342.11,338.43L342.79,338.83L343.48,339.22L344.16,339.62L344.84,340.01L345.53,340.41L346.21,340.81L346.89,341.21L347.57,341.61L348.26,342.01L348.94,342.42L349.62,342.83L350.31,343.24L350.99,343.66L351.67,344.08L352.36,344.51L353.04,344.95L353.72,345.39L354.41,345.83L355.09,346.29L355.77,346.74L356.45,347.19L357.14,347.65L357.82,348.11L358.5,348.58L359.19,349.05L359.87,349.54L360.55,350.03L361.24,350.53L361.92,351.04L362.6,351.56L363.29,352.09L363.97,352.64L364.65,353.2L365.33,353.78L366.02,354.36L366.7,354.97L367.38,355.59L368.07,356.25L368.75,356.94L369.43,357.67L370.12,358.46L370.8,359.29L371.48,360.16L372.16,361.11L372.85,362.19L373.53,363.45L374.21,364.99L374.9,367.23L375.58,369.9L451,369.9" fill="none" stroke="#0000ff" stroke-width="1.65" stroke-dasharray="1.15 4.4" stroke-linecap="round"/>
<path d="M205.5,369.9L206.32,331.93L207.14,325.44L207.96,320.52L208.78,316.18L209.61,312.13L210.43,308.25L211.25,304.46L212.07,300.73L212.89,297.05L213.71,293.4L214.53,289.87L215.35,286.55L216.17,283.52L216.99,280.82L217.82,278.44L218.64,276.35L219.46,274.5L220.28,272.84L221.1,271.35L221.92,270L222.74,268.77L223.56,267.64L224.38,266.59L225.21,265.62L226.03,264.73L226.85,263.89L227.67,263.12L228.49,262.39L229.31,261.72L230.13,261.1L230.95,260.52L231.77,259.98L232.6,259.47L233.42,259L234.24,258.57L235.06,258.16L235.88,257.78L236.7,257.43L237.52,257.11L238.34,256.8L239.16,256.52L239.98,256.26L240.81,256.02L241.63,255.8L242.45,255.6L243.27,255.41L244.09,255.24L244.91,255.08L245.73,254.94L246.55,254.81L247.37,254.7L248.2,254.6L249.02,254.5L249.84,254.42L250.66,254.35L251.48,254.29L252.3,254.24L253.12,254.2L253.94,254.16L254.76,254.14L255.59,254.12L256.41,254.11L257.23,254.11L258.05,254.11L258.87,254.13L259.69,254.14L260.51,254.17L261.33,254.2L262.15,254.23L262.97,254.27L263.8,254.31L264.62,254.36L265.44,254.42L266.26,254.48L267.08,254.54L267.9,254.61L268.72,254.68L269.54,254.75L270.36,254.83L271.19,254.91L272.01,255L272.83,255.09L273.65,255.18L274.47,255.27L275.29,255.37L276.11,255.47L276.93,255.57L277.75,255.67L278.58,255.78L279.4,255.89L280.22,256L281.04,256.12L281.86,256.23L282.68,256.35L283.5,256.47L284.32,256.59L285.14,256.71L285.96,256.84L286.79,256.96L287.61,257.09L288.43,257.22L289.25,257.35L290.07,257.48L290.89,257.61L291.71,257.75L292.53,257.88L293.35,258.02L294.18,258.15L295,258.29L295.82,258.43L296.64,258.57L297.46,258.71L298.28,258.85L299.1,258.99L299.92,259.14L300.74,259.28L301.57,259.42L302.39,259.57L303.21,259.71L304.03,259.86L304.85,260.01L305.67,260.15L306.49,260.3L307.31,260.45L308.13,260.59L308.95,260.74L309.78,260.89L310.6,261.04L311.42,261.19L312.24,261.34L313.06,261.49L313.88,261.64L314.7,261.79L315.52,261.94L316.34,262.09L317.17,262.24L317.99,262.39L318.81,262.54L319.63,262.69L320.45,262.84L321.27,262.99L322.09,263.14L322.91,263.29L323.73,263.44L324.56,263.6L325.38,263.75L326.2,263.9L327.02,264.05L327.84,264.2L328.66,264.35L329.48,264.5L330.3,264.65L331.12,264.8L331.94,264.95L332.77,265.1L333.59,265.25L334.41,265.4L335.23,265.54L336.05,265.69L336.87,265.84L337.69,265.99L338.51,266.14L339.33,266.29L340.16,266.43L340.98,266.58L341.8,266.73L342.62,266.87L343.44,267.02L344.26,267.17L345.08,267.31L345.9,267.46L346.72,267.6L347.55,267.75L348.37,267.89L349.19,268.03L350.01,268.18L350.83,268.32L351.65,268.46L352.47,268.61L353.29,268.75L354.11,268.89L354.93,269.03L355.76,269.17L356.58,269.31L357.4,269.45L358.22,269.59L359.04,269.73L359.86,269.87L360.68,270.01L361.5,270.15L362.32,270.29L363.15,270.42L363.97,270.56L364.79,270.7L365.61,270.83L366.43,270.97L367.25,271.1L368.07,271.24L368.89,271.37L369.71,271.51L370.54,271.64L371.36,271.77L372.18,271.9L373,272.04L373.82,272.17L374.64,272.3L375.46,272.43L376.28,272.56L377.1,272.69L377.92,272.82L378.75,272.94L379.57,273.07L380.39,273.2L381.21,273.33L382.03,273.45L382.85,273.58L383.67,273.7L384.49,273.83L385.31,273.95L386.14,274.08L386.96,274.2L387.78,274.32L388.6,274.45L389.42,274.57L390.24,274.69L391.06,274.81L391.88,274.93L392.7,275.05L393.53,275.17L394.35,275.29L395.17,275.41L395.99,275.52L396.81,275.64L397.63,275.76L398.45,275.87L399.27,275.99L400.09,276.1L400.91,276.22L401.74,276.33L402.56,276.45L403.38,276.56L404.2,276.67L405.02,276.78L405.84,276.89L406.66,277L407.48,277.11L408.3,277.22L409.13,277.33L409.95,277.44L410.77,277.55L411.59,277.66L412.41,277.76L413.23,277.87L414.05,277.98L414.87,278.08L415.69,278.19L416.52,278.29L417.34,278.39L418.16,278.5L418.98,278.6L419.8,278.7L420.62,278.8L421.44,278.91L422.26,279.01L423.08,279.11L423.9,279.21L424.73,279.3L425.55,279.4L426.37,279.5L427.19,279.6L428.01,279.69L428.83,279.79L429.65,279.89L430.47,279.98L431.29,280.08L432.12,280.17L432.94,280.26L433.76,280.36L434.58,280.45L435.4,280.54L436.22,280.63L437.04,280.72L437.86,280.81L438.68,280.9L439.51,280.99L440.33,281.08L441.15,281.17L441.97,281.26L442.79,281.34L443.61,281.43L444.43,281.52L445.25,281.6L446.07,281.69L446.89,281.77L447.72,281.85L448.54,281.94L449.36,282.02L450.18,282.1L451,282.19" fill="none" stroke="#c80000" stroke-width="1.65" stroke-dasharray="1.15 4.4" stroke-linecap="round"/>
<circle cx="244.57" cy="225.1" r="2.75" fill="#000"/>
<circle cx="255.39" cy="228.1" r="2.75" fill="#000"/>
<circle cx="264.71" cy="228.1" r="2.75" fill="#000"/>
<circle cx="275.66" cy="230.29" r="2.75" fill="#000"/>
<circle cx="294.65" cy="228.53" r="2.75" fill="#000"/>
<circle cx="303.51" cy="224.81" r="2.75" fill="#000"/>
<circle cx="313.93" cy="224.66" r="2.75" fill="#000"/>
<circle cx="323.49" cy="225.54" r="2.75" fill="#000"/>
<circle cx="334.23" cy="228.1" r="2.75" fill="#000"/>
<circle cx="345.04" cy="232.12" r="2.75" fill="#000"/>
<circle cx="354.68" cy="235.19" r="2.75" fill="#000"/>
<circle cx="364.31" cy="238.18" r="2.75" fill="#000"/>
<circle cx="373.94" cy="243.37" r="2.75" fill="#000"/>
<circle cx="384.32" cy="248.12" r="2.75" fill="#000"/>
<circle cx="393.97" cy="251.05" r="2.75" fill="#000"/>
<circle cx="403.58" cy="254.34" r="2.75" fill="#000"/>
<circle cx="413.21" cy="253.31" r="2.75" fill="#000"/>
<circle cx="424.03" cy="251.78" r="2.75" fill="#000"/>
<circle cx="434.68" cy="249.88" r="2.75" fill="#000"/>
<circle cx="443.29" cy="248.85" r="2.75" fill="#000"/>
<path d="M450.9,369.9L452.96,367.1L455.03,365.09L457.09,363.21L459.15,361.38L461.22,359.59L463.28,357.83L465.34,356.09L467.4,354.36L469.47,352.65L471.53,350.96L473.59,349.28L475.66,347.61L477.72,345.95L479.78,344.3L481.85,342.67L483.91,341.04L485.97,339.43L488.03,337.82L490.1,336.23L492.16,334.65L494.22,333.08L496.29,331.52L498.35,329.97L500.41,328.43L502.48,326.9L504.54,325.38L506.6,323.87L508.66,322.37L510.73,320.89L512.79,319.41L514.85,317.94L516.92,316.49L518.98,315.04L521.04,313.61L523.11,312.18L525.17,310.77L527.23,309.36L529.29,307.97L531.36,306.59L533.42,305.22L535.48,303.85L537.55,302.5L539.61,301.16L541.67,299.83L543.74,298.52L545.8,297.21L547.86,295.91L549.93,294.62L551.99,293.35L554.05,292.08L556.11,290.83L558.18,289.58L560.24,288.35L562.3,287.13L564.37,285.91L566.43,284.71L568.49,283.52L570.56,282.34L572.62,281.17L574.68,280.02L576.74,278.87L578.81,277.73L580.87,276.61L582.93,275.49L585,274.39L587.06,273.3L589.12,272.22L591.19,271.15L593.25,270.1L595.31,269.05L597.37,268.02L599.44,267L601.5,266L603.56,265L605.63,264.02L607.69,263.06L609.75,262.1L611.82,261.16L613.88,260.23L615.94,259.32L618.01,258.42L620.07,257.53L622.13,256.65L624.19,255.79L626.26,254.95L628.32,254.11L630.38,253.29L632.45,252.49L634.51,251.7L636.57,250.92L638.64,250.16L640.7,249.41L642.76,248.67L644.82,247.95L646.89,247.25L648.95,246.55L651.01,245.88L653.08,245.21L655.14,244.57L657.2,243.93L659.27,243.31L661.33,242.71L663.39,242.12L665.45,241.55L667.52,240.99L669.58,240.45L671.64,239.92L673.71,239.4L675.77,238.9L677.83,238.42L679.9,237.95L681.96,237.5L684.02,237.06L686.08,236.63L688.15,236.23L690.21,235.83L692.27,235.46L694.34,235.1L696.4,234.75" fill="none" stroke="#000000" stroke-width="1.65"/>
<path d="M450.9,369.9L452.96,369.03L455.03,368.45L457.09,367.91L459.15,367.4L461.22,366.9L463.28,366.41L465.34,365.93L467.4,365.46L469.47,364.99L471.53,364.53L473.59,364.07L475.66,363.62L477.72,363.16L479.78,362.71L481.85,362.27L483.91,361.82L485.97,361.38L488.03,360.95L490.1,360.51L492.16,360.08L494.22,359.64L496.29,359.22L498.35,358.79L500.41,358.37L502.48,357.94L504.54,357.52L506.6,357.1L508.66,356.69L510.73,356.28L512.79,355.86L514.85,355.45L516.92,355.05L518.98,354.64L521.04,354.24L523.11,353.84L525.17,353.44L527.23,353.04L529.29,352.64L531.36,352.25L533.42,351.86L535.48,351.47L537.55,351.08L539.61,350.7L541.67,350.31L543.74,349.93L545.8,349.55L547.86,349.17L549.93,348.8L551.99,348.42L554.05,348.05L556.11,347.68L558.18,347.31L560.24,346.95L562.3,346.58L564.37,346.22L566.43,345.86L568.49,345.5L570.56,345.15L572.62,344.79L574.68,344.44L576.74,344.09L578.81,343.74L580.87,343.4L582.93,343.05L585,342.71L587.06,342.37L589.12,342.03L591.19,341.69L593.25,341.36L595.31,341.03L597.37,340.7L599.44,340.37L601.5,340.04L603.56,339.72L605.63,339.39L607.69,339.07L609.75,338.75L611.82,338.44L613.88,338.12L615.94,337.81L618.01,337.5L620.07,337.19L622.13,336.88L624.19,336.58L626.26,336.27L628.32,335.97L630.38,335.67L632.45,335.37L634.51,335.08L636.57,334.79L638.64,334.49L640.7,334.2L642.76,333.92L644.82,333.63L646.89,333.35L648.95,333.07L651.01,332.79L653.08,332.51L655.14,332.23L657.2,331.96L659.27,331.68L661.33,331.41L663.39,331.15L665.45,330.88L667.52,330.62L669.58,330.35L671.64,330.09L673.71,329.83L675.77,329.58L677.83,329.32L679.9,329.07L681.96,328.82L684.02,328.57L686.08,328.32L688.15,328.08L690.21,327.84L692.27,327.59L694.34,327.36L696.4,327.12" fill="none" stroke="#009a00" stroke-width="1.65" stroke-dasharray="1.15 4.4" stroke-linecap="round"/>
<path d="M450.9,369.9L452.96,369.16L455.03,368.67L457.09,368.21L459.15,367.78L461.22,367.36L463.28,366.94L465.34,366.54L467.4,366.14L469.47,365.74L471.53,365.35L473.59,364.96L475.66,364.57L477.72,364.19L479.78,363.81L481.85,363.43L483.91,363.05L485.97,362.68L488.03,362.31L490.1,361.94L492.16,361.57L494.22,361.2L496.29,360.84L498.35,360.48L500.41,360.12L502.48,359.76L504.54,359.41L506.6,359.05L508.66,358.7L510.73,358.35L512.79,358L514.85,357.65L516.92,357.31L518.98,356.96L521.04,356.62L523.11,356.28L525.17,355.94L527.23,355.6L529.29,355.27L531.36,354.93L533.42,354.6L535.48,354.27L537.55,353.94L539.61,353.62L541.67,353.29L543.74,352.97L545.8,352.65L547.86,352.32L549.93,352.01L551.99,351.69L554.05,351.37L556.11,351.06L558.18,350.75L560.24,350.44L562.3,350.13L564.37,349.82L566.43,349.52L568.49,349.21L570.56,348.91L572.62,348.61L574.68,348.31L576.74,348.02L578.81,347.72L580.87,347.43L582.93,347.14L585,346.85L587.06,346.56L589.12,346.27L591.19,345.98L593.25,345.7L595.31,345.42L597.37,345.14L599.44,344.86L601.5,344.58L603.56,344.31L605.63,344.03L607.69,343.76L609.75,343.49L611.82,343.22L613.88,342.95L615.94,342.69L618.01,342.43L620.07,342.16L622.13,341.9L624.19,341.64L626.26,341.39L628.32,341.13L630.38,340.88L632.45,340.63L634.51,340.37L636.57,340.13L638.64,339.88L640.7,339.63L642.76,339.39L644.82,339.15L646.89,338.91L648.95,338.67L651.01,338.43L653.08,338.19L655.14,337.96L657.2,337.73L659.27,337.5L661.33,337.27L663.39,337.04L665.45,336.81L667.52,336.59L669.58,336.37L671.64,336.15L673.71,335.93L675.77,335.71L677.83,335.49L679.9,335.28L681.96,335.07L684.02,334.86L686.08,334.65L688.15,334.44L690.21,334.23L692.27,334.03L694.34,333.83L696.4,333.62" fill="none" stroke="#009a00" stroke-width="1.65" stroke-dasharray="1.15 4.4" stroke-linecap="round"/>
<path d="M450.9,369.9L452.96,369.1L455.03,368.56L457.09,368.07L459.15,367.59L461.22,367.13L463.28,366.69L465.34,366.24L467.4,365.81L469.47,365.38L471.53,364.95L473.59,364.53L475.66,364.11L477.72,363.69L479.78,363.28L481.85,362.87L483.91,362.46L485.97,362.05L488.03,361.65L490.1,361.25L492.16,360.85L494.22,360.45L496.29,360.05L498.35,359.66L500.41,359.27L502.48,358.88L504.54,358.49L506.6,358.11L508.66,357.72L510.73,357.34L512.79,356.96L514.85,356.59L516.92,356.21L518.98,355.84L521.04,355.46L523.11,355.09L525.17,354.73L527.23,354.36L529.29,353.99L531.36,353.63L533.42,353.27L535.48,352.91L537.55,352.56L539.61,352.2L541.67,351.85L543.74,351.49L545.8,351.14L547.86,350.8L549.93,350.45L551.99,350.11L554.05,349.76L556.11,349.42L558.18,349.08L560.24,348.75L562.3,348.41L564.37,348.08L566.43,347.75L568.49,347.42L570.56,347.09L572.62,346.76L574.68,346.44L576.74,346.11L578.81,345.79L580.87,345.47L582.93,345.16L585,344.84L587.06,344.53L589.12,344.21L591.19,343.9L593.25,343.6L595.31,343.29L597.37,342.98L599.44,342.68L601.5,342.38L603.56,342.08L605.63,341.78L607.69,341.49L609.75,341.19L611.82,340.9L613.88,340.61L615.94,340.32L618.01,340.04L620.07,339.75L622.13,339.47L624.19,339.19L626.26,338.91L628.32,338.63L630.38,338.35L632.45,338.08L634.51,337.81L636.57,337.54L638.64,337.27L640.7,337L642.76,336.74L644.82,336.47L646.89,336.21L648.95,335.95L651.01,335.69L653.08,335.44L655.14,335.18L657.2,334.93L659.27,334.68L661.33,334.43L663.39,334.18L665.45,333.94L667.52,333.69L669.58,333.45L671.64,333.21L673.71,332.97L675.77,332.74L677.83,332.5L679.9,332.27L681.96,332.04L684.02,331.81L686.08,331.58L688.15,331.35L690.21,331.13L692.27,330.91L694.34,330.69L696.4,330.47" fill="none" stroke="#009a00" stroke-width="1.65"/>
<path d="M450.9,369.9L452.96,367.32L455.03,365.43L457.09,363.64L459.15,361.9L461.22,360.19L463.28,358.5L465.34,356.83L467.4,355.17L469.47,353.51L471.53,351.88L473.59,350.24L475.66,348.62L477.72,347.01L479.78,345.41L481.85,343.81L483.91,342.23L485.97,340.65L488.03,339.08L490.1,337.52L492.16,335.97L494.22,334.43L496.29,332.89L498.35,331.37L500.41,329.85L502.48,328.34L504.54,326.84L506.6,325.35L508.66,323.87L510.73,322.4L512.79,320.93L514.85,319.48L516.92,318.03L518.98,316.59L521.04,315.16L523.11,313.74L525.17,312.33L527.23,310.93L529.29,309.54L531.36,308.16L533.42,306.78L535.48,305.42L537.55,304.08L539.61,302.74L541.67,301.42L543.74,300.1L545.8,298.81L547.86,297.52L549.93,296.25L551.99,295L554.05,293.75L556.11,292.53L558.18,291.31L560.24,290.12L562.3,288.94L564.37,287.77L566.43,286.62L568.49,285.49L570.56,284.37L572.62,283.27L574.68,282.19L576.74,281.12L578.81,280.07L580.87,279.03L582.93,278L585,276.98L587.06,275.98L589.12,274.97L591.19,273.98L593.25,272.99L595.31,272.01L597.37,271.02L599.44,270.04L601.5,269.06L603.56,268.08L605.63,267.11L607.69,266.14L609.75,265.18L611.82,264.23L613.88,263.29L615.94,262.36L618.01,261.44L620.07,260.54L622.13,259.65L624.19,258.79L626.26,257.94L628.32,257.11L630.38,256.3L632.45,255.51L634.51,254.73L636.57,253.98L638.64,253.25L640.7,252.53L642.76,251.83L644.82,251.15L646.89,250.49L648.95,249.85L651.01,249.22L653.08,248.61L655.14,248.02L657.2,247.45L659.27,246.9L661.33,246.36L663.39,245.84L665.45,245.34L667.52,244.86L669.58,244.39L671.64,243.95L673.71,243.52L675.77,243.1L677.83,242.71L679.9,242.33L681.96,241.96L684.02,241.62L686.08,241.29L688.15,240.98L690.21,240.69L692.27,240.41L694.34,240.15L696.4,239.9" fill="none" stroke="#0000ff" stroke-width="1.65" stroke-dasharray="1.15 4.4" stroke-linecap="round"/>
<path d="M450.9,369.9L452.96,367.35L455.03,365.48L457.09,363.72L459.15,362L461.22,360.31L463.28,358.64L465.34,356.98L467.4,355.34L469.47,353.71L471.53,352.09L473.59,350.48L475.66,348.88L477.72,347.29L479.78,345.7L481.85,344.13L483.91,342.56L485.97,341L488.03,339.45L490.1,337.91L492.16,336.38L494.22,334.85L496.29,333.34L498.35,331.83L500.41,330.33L502.48,328.84L504.54,327.36L506.6,325.88L508.66,324.42L510.73,322.96L512.79,321.52L514.85,320.08L516.92,318.65L518.98,317.23L521.04,315.82L523.11,314.41L525.17,313.02L527.23,311.63L529.29,310.26L531.36,308.89L533.42,307.54L535.48,306.19L537.55,304.86L539.61,303.54L541.67,302.23L543.74,300.94L545.8,299.65L547.86,298.39L549.93,297.13L551.99,295.89L554.05,294.66L556.11,293.45L558.18,292.25L560.24,291.07L562.3,289.9L564.37,288.75L566.43,287.62L568.49,286.5L570.56,285.39L572.62,284.3L574.68,283.23L576.74,282.18L578.81,281.14L580.87,280.11L582.93,279.1L585,278.09L587.06,277.1L589.12,276.11L591.19,275.12L593.25,274.15L595.31,273.17L597.37,272.2L599.44,271.23L601.5,270.27L603.56,269.3L605.63,268.34L607.69,267.38L609.75,266.43L611.82,265.49L613.88,264.56L615.94,263.64L618.01,262.73L620.07,261.84L622.13,260.97L624.19,260.11L626.26,259.27L628.32,258.45L630.38,257.65L632.45,256.87L634.51,256.11L636.57,255.36L638.64,254.64L640.7,253.93L642.76,253.24L644.82,252.57L646.89,251.91L648.95,251.28L651.01,250.66L653.08,250.06L655.14,249.48L657.2,248.91L659.27,248.37L661.33,247.84L663.39,247.32L665.45,246.83L667.52,246.35L669.58,245.89L671.64,245.45L673.71,245.02L675.77,244.61L677.83,244.22L679.9,243.85L681.96,243.49L684.02,243.15L686.08,242.82L688.15,242.52L690.21,242.23L692.27,241.95L694.34,241.69L696.4,241.45" fill="none" stroke="#0000ff" stroke-width="1.65" stroke-dasharray="1.15 4.4" stroke-linecap="round"/>
<path d="M450.9,369.9L452.96,367.33L455.03,365.46L457.09,363.68L459.15,361.95L461.22,360.25L463.28,358.57L465.34,356.91L467.4,355.25L469.47,353.61L471.53,351.98L473.59,350.36L475.66,348.75L477.72,347.15L479.78,345.56L481.85,343.97L483.91,342.39L485.97,340.83L488.03,339.27L490.1,337.72L492.16,336.17L494.22,334.64L496.29,333.11L498.35,331.6L500.41,330.09L502.48,328.59L504.54,327.1L506.6,325.62L508.66,324.14L510.73,322.68L512.79,321.22L514.85,319.78L516.92,318.34L518.98,316.91L521.04,315.49L523.11,314.08L525.17,312.67L527.23,311.28L529.29,309.9L531.36,308.52L533.42,307.16L535.48,305.81L537.55,304.47L539.61,303.14L541.67,301.82L543.74,300.52L545.8,299.23L547.86,297.95L549.93,296.69L551.99,295.44L554.05,294.21L556.11,292.99L558.18,291.78L560.24,290.59L562.3,289.42L564.37,288.26L566.43,287.12L568.49,285.99L570.56,284.88L572.62,283.79L574.68,282.71L576.74,281.65L578.81,280.6L580.87,279.57L582.93,278.55L585,277.54L587.06,276.54L589.12,275.54L591.19,274.55L593.25,273.57L595.31,272.59L597.37,271.61L599.44,270.64L601.5,269.66L603.56,268.69L605.63,267.72L607.69,266.76L609.75,265.81L611.82,264.86L613.88,263.92L615.94,263L618.01,262.09L620.07,261.19L622.13,260.31L624.19,259.45L626.26,258.61L628.32,257.78L630.38,256.98L632.45,256.19L634.51,255.42L636.57,254.67L638.64,253.94L640.7,253.23L642.76,252.53L644.82,251.86L646.89,251.2L648.95,250.56L651.01,249.94L653.08,249.34L655.14,248.75L657.2,248.18L659.27,247.63L661.33,247.1L663.39,246.58L665.45,246.09L667.52,245.61L669.58,245.14L671.64,244.7L673.71,244.27L675.77,243.86L677.83,243.46L679.9,243.09L681.96,242.73L684.02,242.38L686.08,242.06L688.15,241.75L690.21,241.46L692.27,241.18L694.34,240.92L696.4,240.68" fill="none" stroke="#0000ff" stroke-width="1.65"/>
<path d="M450.9,369.9L452.96,367.33L455.03,365.46L457.09,363.68L459.15,361.95L461.22,360.25L463.28,358.57L465.34,356.91L467.4,355.25L469.47,353.61L471.53,351.98L473.59,350.36L475.66,348.75L477.72,347.15L479.78,345.56L481.85,343.97L483.91,342.39L485.97,340.83L488.03,339.27L490.1,337.72L492.16,336.17L494.22,334.64L496.29,333.11L498.35,331.6L500.41,330.09L502.48,328.59L504.54,327.1L506.6,325.62L508.66,324.14L510.73,322.68L512.79,321.22L514.85,319.78L516.92,318.34L518.98,316.91L521.04,315.49L523.11,314.08L525.17,312.67L527.23,311.28L529.29,309.9L531.36,308.52L533.42,307.16L535.48,305.81L537.55,304.47L539.61,303.14L541.67,301.82L543.74,300.52L545.8,299.23L547.86,297.95L549.93,296.69L551.99,295.44L554.05,294.21L556.11,292.99L558.18,291.78L560.24,290.59L562.3,289.42L564.37,288.26L566.43,287.12L568.49,285.99L570.56,284.88L572.62,283.79L574.68,282.71L576.74,281.65L578.81,280.6L580.87,279.57L582.93,278.55L585,277.54L587.06,276.54L589.12,275.54L591.19,274.55L593.25,273.57L595.31,272.59L597.37,271.61L599.44,270.64L601.5,269.66L603.56,268.69L605.63,267.72L607.69,266.76L609.75,265.81L611.82,264.86L613.88,263.92L615.94,263L618.01,262.09L620.07,261.19L622.13,260.31L624.19,259.45L626.26,258.61L628.32,257.78L630.38,256.98L632.45,256.19L634.51,255.42L636.57,254.67L638.64,253.94L640.7,253.23L642.76,252.53L644.82,251.86L646.89,251.2L648.95,250.56L651.01,249.94L653.08,249.34L655.14,248.75L657.2,248.18L659.27,247.63L661.33,247.1L663.39,246.58L665.45,246.09L667.52,245.61L669.58,245.14L671.64,244.7L673.71,244.27L675.77,243.86L677.83,243.46L679.9,243.09L681.96,242.73L684.02,242.38L686.08,242.06L688.15,241.75L690.21,241.46L692.27,241.18L694.34,240.92L696.4,240.68" fill="none" stroke="#ff0000" stroke-width="1.65" stroke-dasharray="6.4 4.4"/>
<path d="M450.9,369.9L451,367.47L451.09,366.47L451.19,365.7L451.29,365.05L451.39,364.48L451.48,363.96L451.58,363.48L451.68,363.04L451.78,362.62L451.87,362.23L451.97,361.86L452.07,361.5L452.16,361.16L452.26,360.83L452.36,360.51L452.46,360.2L452.55,359.9L452.65,359.61L452.75,359.33L452.85,359.05L452.94,358.79L453.04,358.53L453.14,358.27L453.24,358.02L453.33,357.77L453.43,357.53L453.53,357.3L453.62,357.07L453.72,356.84L453.82,356.62L453.92,356.4L454.01,356.18L454.11,355.97L454.21,355.76L454.31,355.55L454.4,355.35L454.5,355.15L454.6,354.95L454.69,354.76L455.5,353.22L456.31,351.81L457.12,350.51L457.93,349.29L458.74,348.14L459.54,347.04L460.35,346L461.16,345L461.97,344.03L462.78,343.11L463.59,342.21L464.39,341.34L465.2,340.5L466.01,339.68L466.82,338.88L467.63,338.1L468.44,337.34L469.25,336.6L470.05,335.87L470.86,335.16L471.67,334.47L472.48,333.78L473.29,333.11L474.1,332.46L474.9,331.81L475.71,331.17L476.52,330.55L477.33,329.93L478.14,329.32L478.95,328.73L479.75,328.14L480.56,327.56L481.37,326.98L482.18,326.42L482.99,325.86L483.8,325.31L484.6,324.76L485.41,324.23L486.22,323.69L487.03,323.17L487.84,322.65L488.65,322.13L489.45,321.63L490.26,321.12L491.07,320.62L491.88,320.13L492.69,319.64L493.5,319.16L494.31,318.68L495.11,318.2L495.92,317.73L496.73,317.27L497.54,316.81L498.35,316.35L499.16,315.89L499.96,315.44L500.77,315L501.58,314.55L502.39,314.11L503.2,313.68L504.01,313.24L504.81,312.81L505.62,312.39L506.43,311.96L507.24,311.54L508.05,311.13L508.86,310.71L509.66,310.3L510.47,309.89L511.28,309.49L512.09,309.08L512.9,308.68L513.71,308.29L514.51,307.89L515.32,307.5L516.13,307.11L516.94,306.72L517.75,306.33L518.56,305.95L519.36,305.57L520.17,305.19L520.98,304.82L521.79,304.44L522.6,304.07L523.41,303.7L524.22,303.33L525.02,302.96L525.83,302.6L526.64,302.24L527.45,301.88L528.26,301.52L529.07,301.16L529.87,300.81L530.68,300.46L531.49,300.11L532.3,299.76L533.11,299.41L533.92,299.06L534.72,298.72L535.53,298.38L536.34,298.04L537.15,297.7L537.96,297.36L538.77,297.02L539.57,296.69L540.38,296.36L541.19,296.02L542,295.69L542.81,295.37L543.62,295.04L544.42,294.71L545.23,294.39L546.04,294.07L546.85,293.74L547.66,293.42L548.47,293.11L549.27,292.79L550.08,292.47L550.89,292.16L551.7,291.84L552.51,291.53L553.32,291.22L554.13,290.91L554.93,290.6L555.74,290.29L556.55,289.99L557.36,289.68L558.17,289.38L558.98,289.08L559.78,288.77L560.59,288.47L561.4,288.17L562.21,287.88L563.02,287.58L563.83,287.28L564.63,286.99L565.44,286.69L566.25,286.4L567.06,286.11L567.87,285.82L568.68,285.53L569.48,285.24L570.29,284.95L571.1,284.66L571.91,284.38L572.72,284.09L573.53,283.81L574.33,283.52L575.14,283.24L575.95,282.96L576.76,282.68L577.57,282.4L578.38,282.12L579.18,281.84L579.99,281.57L580.8,281.29L581.61,281.01L582.42,280.74L583.23,280.47L584.04,280.19L584.84,279.92L585.65,279.65L586.46,279.38L587.27,279.11L588.08,278.84L588.89,278.57L589.69,278.31L590.5,278.04L591.31,277.77L592.12,277.51L592.93,277.25L593.74,276.98L594.54,276.72L595.35,276.46L596.16,276.2L596.97,275.94L597.78,275.68L598.59,275.42L599.39,275.16L600.2,274.9L601.01,274.65L601.82,274.39L602.63,274.13L603.44,273.88L604.24,273.63L605.05,273.37L605.86,273.12L606.67,272.87L607.48,272.62L608.29,272.36L609.09,272.11L609.9,271.86L610.71,271.62L611.52,271.37L612.33,271.12L613.14,270.87L613.95,270.63L614.75,270.38L615.56,270.14L616.37,269.89L617.18,269.65L617.99,269.4L618.8,269.16L619.6,268.92L620.41,268.68L621.22,268.44L622.03,268.2L622.84,267.96L623.65,267.72L624.45,267.48L625.26,267.24L626.07,267L626.88,266.76L627.69,266.53L628.5,266.29L629.3,266.06L630.11,265.82L630.92,265.59L631.73,265.35L632.54,265.12L633.35,264.89L634.15,264.65L634.96,264.42L635.77,264.19L636.58,263.96L637.39,263.73L638.2,263.5L639.01,263.27L639.81,263.04L640.62,262.81L641.43,262.59L642.24,262.36L643.05,262.13L643.86,261.9L644.66,261.68L645.47,261.45L646.28,261.23L647.09,261L647.9,260.78L648.71,260.56L649.51,260.33L650.32,260.11L651.13,259.89L651.94,259.67L652.75,259.44L653.56,259.22L654.36,259L655.17,258.78L655.98,258.56L656.79,258.34L657.6,258.12L658.41,257.91L659.21,257.69L660.02,257.47L660.83,257.25L661.64,257.04L662.45,256.82L663.26,256.6L664.06,256.39L664.87,256.17L665.68,255.96L666.49,255.75L667.3,255.53L668.11,255.32L668.92,255.11L669.72,254.89L670.53,254.68L671.34,254.47L672.15,254.26L672.96,254.05L673.77,253.84L674.57,253.63L675.38,253.42L676.19,253.21L677,253L677.81,252.79L678.62,252.58L679.42,252.37L680.23,252.16L681.04,251.96L681.85,251.75L682.66,251.54L683.47,251.34L684.27,251.13L685.08,250.93L685.89,250.72L686.7,250.52L687.51,250.31L688.32,250.11L689.12,249.9L689.93,249.7L690.74,249.5L691.55,249.29L692.36,249.09L693.17,248.89L693.97,248.69L694.78,248.49L695.59,248.28L696.4,248.08" fill="none" stroke="#ff8000" stroke-width="1.65" stroke-dasharray="11.7 10.5" stroke-dashoffset="6.44"/>
</g>
<g font-family="'Liberation Sans', sans-serif" fill="#000" stroke="#000" stroke-width="0.55" style="font-kerning:none">
<text transform="translate(77.29,196.7) scale(1.1700,1)" font-size="16" stroke-width="0.65">0</text>
<text transform="translate(123.91,196.7) scale(1.1700,1)" font-size="16" stroke-width="0.65">.2</text>
<text transform="translate(173.31,196.7) scale(1.1700,1)" font-size="16" stroke-width="0.65">.4</text>
<text transform="translate(223.05,196.7) scale(1.1700,1)" font-size="16" stroke-width="0.65">.6</text>
<text transform="translate(272.65,196.7) scale(1.1700,1)" font-size="16" stroke-width="0.65">.8</text>
<text transform="translate(322.79,196.7) scale(1.1700,1)" font-size="16" stroke-width="0.65">0</text>
<text transform="translate(369.41,196.7) scale(1.1700,1)" font-size="16" stroke-width="0.65">.2</text>
<text transform="translate(418.81,196.7) scale(1.1700,1)" font-size="16" stroke-width="0.65">.4</text>
<text transform="translate(468.55,196.7) scale(1.1700,1)" font-size="16" stroke-width="0.65">.6</text>
<text transform="translate(518.15,196.7) scale(1.1700,1)" font-size="16" stroke-width="0.65">.8</text>
<text transform="translate(568.39,196.7) scale(1.1700,1)" font-size="16" stroke-width="0.65">0</text>
<text transform="translate(615.01,196.7) scale(1.1700,1)" font-size="16" stroke-width="0.65">.2</text>
<text transform="translate(664.41,196.7) scale(1.1700,1)" font-size="16" stroke-width="0.65">.4</text>
<text transform="translate(714.15,196.7) scale(1.1700,1)" font-size="16" stroke-width="0.65">.6</text>
<text transform="translate(763.75,196.7) scale(1.1700,1)" font-size="16" stroke-width="0.65">.8</text>
<text transform="translate(200.29,392.2) scale(1.1700,1)" font-size="16" stroke-width="0.65">0</text>
<text transform="translate(239.63,392.2) scale(1.1700,1)" font-size="16" stroke-width="0.65">.4</text>
<text transform="translate(282.29,392.2) scale(1.1700,1)" font-size="16" stroke-width="0.65">.8</text>
<text transform="translate(319.81,392.2) scale(1.1700,1)" font-size="16" stroke-width="0.65">1.2</text>
<text transform="translate(362.27,392.2) scale(1.1700,1)" font-size="16" stroke-width="0.65">1.6</text>
<text transform="translate(412.89,392.2) scale(1.1700,1)" font-size="16" stroke-width="0.65">2</text>
<text transform="translate(445.69,392.2) scale(1.1700,1)" font-size="16" stroke-width="0.65">0</text>
<text transform="translate(492.31,392.2) scale(1.1700,1)" font-size="16" stroke-width="0.65">.2</text>
<text transform="translate(541.71,392.2) scale(1.1700,1)" font-size="16" stroke-width="0.65">.4</text>
<text transform="translate(591.45,392.2) scale(1.1700,1)" font-size="16" stroke-width="0.65">.6</text>
<text transform="translate(641.05,392.2) scale(1.1700,1)" font-size="16" stroke-width="0.65">.8</text>
<text transform="translate(64.12,180.15) scale(1.1700,1)" font-size="16" stroke-width="0.65">0</text>
<text transform="translate(53.71,141.7) scale(1.1700,1)" font-size="16" stroke-width="0.65">40</text>
<text transform="translate(53.71,103.25) scale(1.1700,1)" font-size="16" stroke-width="0.65">80</text>
<text transform="translate(43.3,64.8) scale(1.1700,1)" font-size="16" stroke-width="0.65">120</text>
<text transform="translate(43.3,26.35) scale(1.1700,1)" font-size="16" stroke-width="0.65">160</text>
<text transform="translate(187.12,375.65) scale(1.1700,1)" font-size="16" stroke-width="0.65">0</text>
<text transform="translate(176.71,346.41) scale(1.1700,1)" font-size="16" stroke-width="0.65">40</text>
<text transform="translate(176.71,317.17) scale(1.1700,1)" font-size="16" stroke-width="0.65">80</text>
<text transform="translate(166.3,287.94) scale(1.1700,1)" font-size="16" stroke-width="0.65">120</text>
<text transform="translate(166.3,258.7) scale(1.1700,1)" font-size="16" stroke-width="0.65">160</text>
<text transform="translate(166.3,229.46) scale(1.1700,1)" font-size="16" stroke-width="0.65">200</text>
<text transform="translate(107.13,54.9) scale(0.9271,1)" font-size="16" stroke-width="1.02">IC</text>
<text transform="translate(131.78,54.9) scale(1.1827,1)" font-size="16" stroke-width="0.65">342</text>
<text transform="translate(352.59,54.9) scale(1.0735,1)" font-size="16" stroke-width="0.7">M74</text>
<text transform="translate(597.75,54.9) scale(1.1027,1)" font-size="16" stroke-width="0.65">M83</text>
<text transform="translate(397.08,316.5) scale(1.0803,1)" font-size="16" stroke-width="0.69">M94</text>
<text transform="translate(623.82,316.5) scale(1.0493,1)" font-size="16" stroke-width="0.75">M101</text>
<text transform="translate(344.78,417) scale(1.0853,1)" font-size="16" stroke-width="0.68">Radius</text>
<text transform="translate(407.83,417) scale(1.1786,1.27)" font-size="16" stroke-width="0.65">(</text>
<text transform="translate(415.33,417) scale(1.1891,1)" font-size="16" stroke-width="0.65">in</text>
<text transform="translate(439.71,417) scale(1.1024,1)" font-size="16" stroke-width="0.65">scale</text>
<text transform="translate(490.5,417) scale(1.1154,1)" font-size="16" stroke-width="0.65">lengths</text>
<text transform="translate(549.49,417) scale(1.2022,1.27)" font-size="16" stroke-width="0.65">)</text>
<text transform="translate(28,311.5) rotate(-90) translate(-1.19,0) scale(1.1354,1)" font-size="16" stroke-width="0.65">Rotational</text>
<text transform="translate(28,311.5) rotate(-90) translate(88.52,0) scale(1.0837,1)" font-size="16" stroke-width="0.68">Velocity</text>
<text transform="translate(28,311.5) rotate(-90) translate(161.21,0) scale(1.2022,1.27)" font-size="16" stroke-width="0.65">(</text>
<text transform="translate(28,311.5) rotate(-90) translate(168.38,0) scale(1.1357,1)" font-size="16" stroke-width="0.65">km</text>
<text transform="translate(28,311.5) rotate(-90) translate(202.08,0) scale(1.1754,1)" font-size="16" stroke-width="0.65">s</text>
<text transform="translate(28,311.5) rotate(-90) translate(211.3,-11.1) scale(1.0993,1)" font-size="11" stroke-width="0.45">−1</text>
<text transform="translate(28,311.5) rotate(-90) translate(226.06,0) scale(1.4615,1.27)" font-size="16" stroke-width="0.65">)</text>
</g>
</svg></body></html>
